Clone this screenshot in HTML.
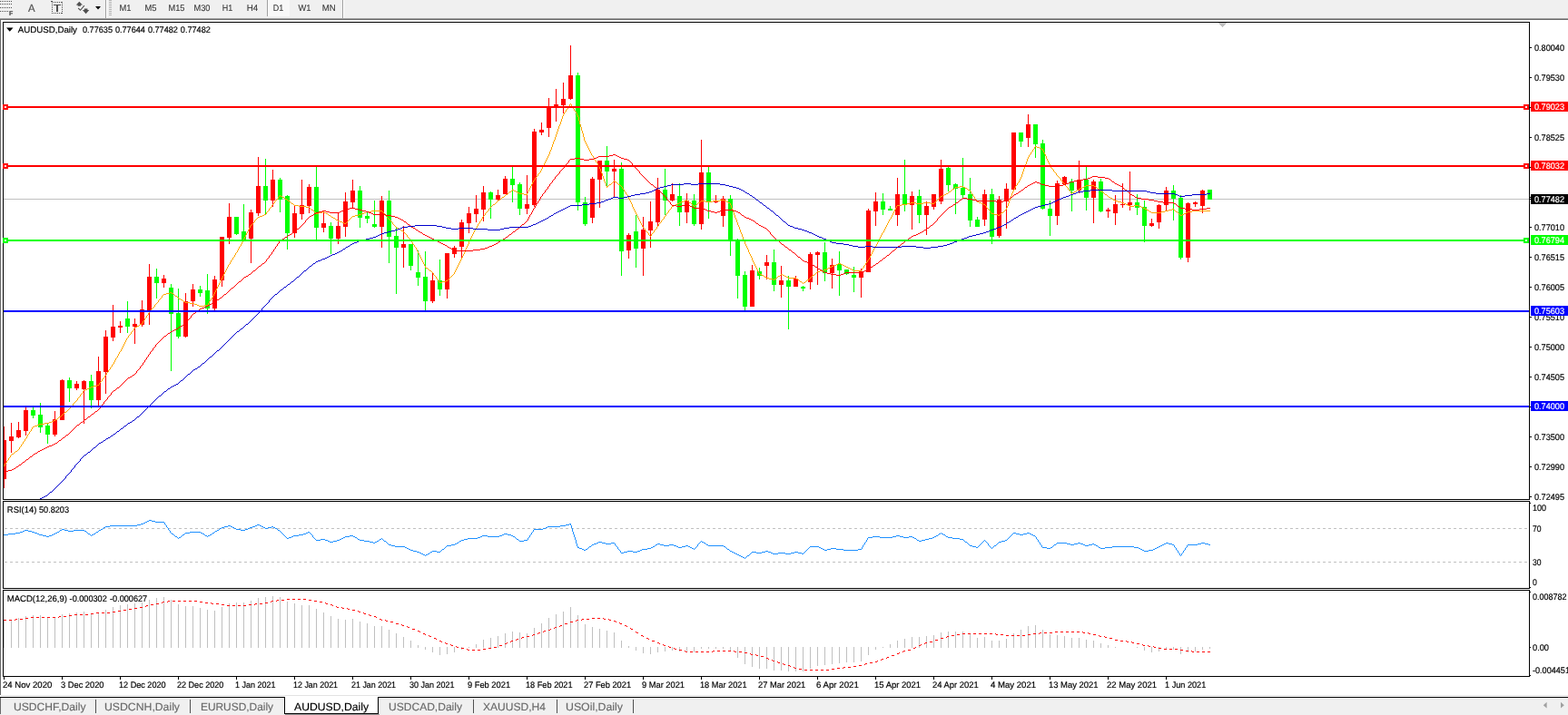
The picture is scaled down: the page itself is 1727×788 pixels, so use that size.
<!DOCTYPE html>
<html lang="en"><head><meta charset="utf-8"><title>AUDUSD,Daily</title>
<style>html,body{margin:0;padding:0;background:#fff;overflow:hidden}svg{display:block;font-family:'Liberation Sans','DejaVu Sans',sans-serif}text{white-space:pre;text-rendering:geometricPrecision}</style>
</head><body>
<svg width="1727" height="788" viewBox="0 0 1727 788">
<g shape-rendering="crispEdges">
<rect x="0" y="0" width="1727" height="788" fill="#ffffff"/>
<rect x="0" y="0" width="1727" height="20" fill="#f0f0f0"/>
<rect x="0" y="20" width="1727" height="1" fill="#a0a0a0"/>
<rect x="0" y="21" width="1727" height="1" fill="#696969"/>
<rect x="0" y="22" width="1" height="744" fill="#696969"/>
<rect x="116" y="0" width="1" height="20" fill="#a0a0a0"/>
<rect x="117" y="0" width="1" height="20" fill="#ffffff"/>
<rect x="377" y="0" width="1" height="20" fill="#a0a0a0"/>
<rect x="378" y="0" width="1" height="20" fill="#ffffff"/>
<rect x="294" y="0" width="1" height="18" fill="#a0a0a0"/>
<rect x="295" y="0" width="24" height="18" fill="#f8f8f8"/>
<rect x="120" y="0" width="3" height="1" fill="#b4b4b4"/>
<rect x="120" y="2" width="3" height="1" fill="#b4b4b4"/>
<rect x="120" y="4" width="3" height="1" fill="#b4b4b4"/>
<rect x="120" y="6" width="3" height="1" fill="#b4b4b4"/>
<rect x="120" y="8" width="3" height="1" fill="#b4b4b4"/>
<rect x="120" y="10" width="3" height="1" fill="#b4b4b4"/>
<rect x="120" y="12" width="3" height="1" fill="#b4b4b4"/>
<rect x="120" y="14" width="3" height="1" fill="#b4b4b4"/>
<rect x="120" y="16" width="3" height="1" fill="#b4b4b4"/>
<rect x="0" y="1" width="1" height="1" fill="#505050"/>
<rect x="2" y="1" width="1" height="1" fill="#505050"/>
<rect x="4" y="1" width="1" height="1" fill="#505050"/>
<rect x="6" y="1" width="1" height="1" fill="#505050"/>
<rect x="8" y="1" width="1" height="1" fill="#505050"/>
<rect x="10" y="1" width="1" height="1" fill="#505050"/>
<rect x="12" y="1" width="1" height="1" fill="#505050"/>
<rect x="0" y="4" width="1" height="1" fill="#505050"/>
<rect x="2" y="4" width="1" height="1" fill="#505050"/>
<rect x="4" y="4" width="1" height="1" fill="#505050"/>
<rect x="6" y="4" width="1" height="1" fill="#505050"/>
<rect x="8" y="4" width="1" height="1" fill="#505050"/>
<rect x="10" y="4" width="1" height="1" fill="#505050"/>
<rect x="12" y="4" width="1" height="1" fill="#505050"/>
<rect x="0" y="8" width="1" height="1" fill="#505050"/>
<rect x="2" y="8" width="1" height="1" fill="#505050"/>
<rect x="4" y="8" width="1" height="1" fill="#505050"/>
<rect x="6" y="8" width="1" height="1" fill="#505050"/>
<rect x="8" y="8" width="1" height="1" fill="#505050"/>
<rect x="10" y="8" width="1" height="1" fill="#505050"/>
<rect x="12" y="8" width="1" height="1" fill="#505050"/>
<rect x="0" y="12" width="1" height="1" fill="#505050"/>
<rect x="2" y="12" width="1" height="1" fill="#505050"/>
<rect x="4" y="12" width="1" height="1" fill="#505050"/>
<rect x="6" y="12" width="1" height="1" fill="#505050"/>
<rect x="8" y="12" width="1" height="1" fill="#505050"/>
<rect x="57" y="2" width="1" height="1" fill="#505050"/>
<rect x="57" y="14" width="1" height="1" fill="#505050"/>
<rect x="59" y="2" width="1" height="1" fill="#505050"/>
<rect x="59" y="14" width="1" height="1" fill="#505050"/>
<rect x="61" y="2" width="1" height="1" fill="#505050"/>
<rect x="61" y="14" width="1" height="1" fill="#505050"/>
<rect x="63" y="2" width="1" height="1" fill="#505050"/>
<rect x="63" y="14" width="1" height="1" fill="#505050"/>
<rect x="65" y="2" width="1" height="1" fill="#505050"/>
<rect x="65" y="14" width="1" height="1" fill="#505050"/>
<rect x="67" y="2" width="1" height="1" fill="#505050"/>
<rect x="67" y="14" width="1" height="1" fill="#505050"/>
<rect x="57" y="2" width="1" height="1" fill="#505050"/>
<rect x="68" y="2" width="1" height="1" fill="#505050"/>
<rect x="57" y="4" width="1" height="1" fill="#505050"/>
<rect x="68" y="4" width="1" height="1" fill="#505050"/>
<rect x="57" y="6" width="1" height="1" fill="#505050"/>
<rect x="68" y="6" width="1" height="1" fill="#505050"/>
<rect x="57" y="8" width="1" height="1" fill="#505050"/>
<rect x="68" y="8" width="1" height="1" fill="#505050"/>
<rect x="57" y="10" width="1" height="1" fill="#505050"/>
<rect x="68" y="10" width="1" height="1" fill="#505050"/>
<rect x="57" y="12" width="1" height="1" fill="#505050"/>
<rect x="68" y="12" width="1" height="1" fill="#505050"/>
<rect x="57" y="14" width="1" height="1" fill="#505050"/>
<rect x="68" y="14" width="1" height="1" fill="#505050"/>
<rect x="56" y="1" width="2" height="1" fill="#505050"/>
<rect x="59" y="5" width="8" height="1" fill="#505050"/>
<rect x="62" y="5" width="2" height="8" fill="#505050"/>
</g>
<g fill="#505050"><path d="M87.3 1.8 L91 5.5 L89 5.5 L89 6.8 L85.6 6.8 L85.6 5.5 L83.7 5.5 Z"/><path d="M94.6 15.2 L98.3 11 L96.4 11 L96.4 9.6 L92.8 9.6 L92.8 11 L90.9 11 Z"/><path d="M86.2 9 L88.5 11.3 L92.9 6.2" fill="none" stroke="#505050" stroke-width="1.1"/></g>
<path d="M105 7 L111 7 L108 10.5 Z" fill="#000"/>
<text x="10" y="16.5" font-size="7" fill="#404040" stroke="#404040" stroke-width="0.18" font-weight="bold">F</text>
<text x="31" y="12.8" font-size="12" fill="#505050" stroke="#505050" stroke-width="0.18" textLength="7.6" lengthAdjust="spacingAndGlyphs">A</text>
<text x="131.5" y="11.8" font-size="9.7" fill="#383838" stroke="#383838" stroke-width="0.1" textLength="13" lengthAdjust="spacingAndGlyphs">M1</text>
<text x="159.5" y="11.8" font-size="9.7" fill="#383838" stroke="#383838" stroke-width="0.1" textLength="13" lengthAdjust="spacingAndGlyphs">M5</text>
<text x="185.5" y="11.8" font-size="9.7" fill="#383838" stroke="#383838" stroke-width="0.1" textLength="18" lengthAdjust="spacingAndGlyphs">M15</text>
<text x="213.5" y="11.8" font-size="9.7" fill="#383838" stroke="#383838" stroke-width="0.1" textLength="18" lengthAdjust="spacingAndGlyphs">M30</text>
<text x="244.7" y="11.8" font-size="9.7" fill="#383838" stroke="#383838" stroke-width="0.1" textLength="11.5" lengthAdjust="spacingAndGlyphs">H1</text>
<text x="271.7" y="11.8" font-size="9.7" fill="#383838" stroke="#383838" stroke-width="0.1" textLength="12.5" lengthAdjust="spacingAndGlyphs">H4</text>
<text x="300.7" y="11.8" font-size="9.7" fill="#383838" stroke="#383838" stroke-width="0.1" textLength="11.5" lengthAdjust="spacingAndGlyphs">D1</text>
<text x="328.4" y="11.8" font-size="9.7" fill="#383838" stroke="#383838" stroke-width="0.1" textLength="14" lengthAdjust="spacingAndGlyphs">W1</text>
<text x="354.8" y="11.8" font-size="9.7" fill="#383838" stroke="#383838" stroke-width="0.1" textLength="15" lengthAdjust="spacingAndGlyphs">MN</text>
<g shape-rendering="crispEdges">
<rect x="3" y="24" width="1" height="722" fill="#000"/>
<rect x="1684" y="24" width="1" height="722" fill="#000"/>
<rect x="3" y="24" width="1682" height="1" fill="#000"/>
<rect x="3" y="550" width="1682" height="1" fill="#000"/>
<rect x="3" y="552" width="1682" height="1" fill="#000"/>
<rect x="3" y="648" width="1682" height="1" fill="#000"/>
<rect x="3" y="650" width="1682" height="1" fill="#000"/>
<rect x="3" y="745" width="1682" height="1" fill="#000"/>
<rect x="3" y="551" width="1" height="1" fill="#fff"/>
<rect x="3" y="649" width="1" height="1" fill="#fff"/>
<rect x="1684" y="551" width="1" height="1" fill="#fff"/>
<rect x="1684" y="649" width="1" height="1" fill="#fff"/>
<rect x="1342" y="25" width="9" height="1" fill="#c0c0c0"/>
<rect x="1343" y="26" width="7" height="1" fill="#c0c0c0"/>
<rect x="1344" y="27" width="5" height="1" fill="#c0c0c0"/>
<rect x="1345" y="28" width="3" height="1" fill="#c0c0c0"/>
<rect x="1346" y="29" width="1" height="1" fill="#c0c0c0"/>
</g>
<defs><clipPath id="cm"><rect x="4" y="25" width="1680" height="525"/></clipPath><clipPath id="cr"><rect x="4" y="553" width="1680" height="95"/></clipPath><clipPath id="cd"><rect x="4" y="651" width="1680" height="94"/></clipPath></defs>
<g shape-rendering="crispEdges" clip-path="url(#cm)">
<rect x="4" y="219" width="1680" height="1" fill="#c0c0c0"/>
<rect x="4" y="470" width="1" height="68" fill="#ff0000"/>
<rect x="2" y="485" width="5" height="43" fill="#ff0000"/>
<rect x="12" y="466" width="1" height="33" fill="#ff0000"/>
<rect x="10" y="481" width="5" height="5" fill="#ff0000"/>
<rect x="20" y="465" width="1" height="18" fill="#ff0000"/>
<rect x="18" y="474" width="5" height="8" fill="#ff0000"/>
<rect x="28" y="449" width="1" height="31" fill="#ff0000"/>
<rect x="26" y="452" width="5" height="23" fill="#ff0000"/>
<rect x="36" y="449" width="1" height="12" fill="#00ff00"/>
<rect x="34" y="452" width="5" height="6" fill="#00ff00"/>
<rect x="44" y="444" width="1" height="33" fill="#00ff00"/>
<rect x="42" y="457" width="5" height="14" fill="#00ff00"/>
<rect x="52" y="467" width="1" height="22" fill="#00ff00"/>
<rect x="50" y="469" width="5" height="10" fill="#00ff00"/>
<rect x="60" y="453" width="1" height="28" fill="#ff0000"/>
<rect x="58" y="462" width="5" height="17" fill="#ff0000"/>
<rect x="68" y="418" width="1" height="45" fill="#ff0000"/>
<rect x="66" y="419" width="5" height="44" fill="#ff0000"/>
<rect x="76" y="416" width="1" height="27" fill="#00ff00"/>
<rect x="74" y="419" width="5" height="9" fill="#00ff00"/>
<rect x="84" y="420" width="1" height="10" fill="#ff0000"/>
<rect x="82" y="423" width="5" height="5" fill="#ff0000"/>
<rect x="92" y="419" width="1" height="48" fill="#ff0000"/>
<rect x="90" y="420" width="5" height="9" fill="#ff0000"/>
<rect x="100" y="413" width="1" height="37" fill="#00ff00"/>
<rect x="98" y="420" width="5" height="21" fill="#00ff00"/>
<rect x="108" y="393" width="1" height="56" fill="#ff0000"/>
<rect x="106" y="409" width="5" height="32" fill="#ff0000"/>
<rect x="116" y="364" width="1" height="70" fill="#ff0000"/>
<rect x="114" y="371" width="5" height="39" fill="#ff0000"/>
<rect x="124" y="336" width="1" height="40" fill="#ff0000"/>
<rect x="122" y="360" width="5" height="12" fill="#ff0000"/>
<rect x="132" y="354" width="1" height="13" fill="#ff0000"/>
<rect x="130" y="359" width="5" height="2" fill="#ff0000"/>
<rect x="140" y="332" width="1" height="35" fill="#00ff00"/>
<rect x="138" y="351" width="5" height="9" fill="#00ff00"/>
<rect x="148" y="351" width="1" height="28" fill="#ff0000"/>
<rect x="146" y="357" width="5" height="3" fill="#ff0000"/>
<rect x="156" y="331" width="1" height="29" fill="#ff0000"/>
<rect x="154" y="341" width="5" height="17" fill="#ff0000"/>
<rect x="164" y="291" width="1" height="67" fill="#ff0000"/>
<rect x="162" y="305" width="5" height="39" fill="#ff0000"/>
<rect x="172" y="296" width="1" height="33" fill="#00ff00"/>
<rect x="170" y="305" width="5" height="7" fill="#00ff00"/>
<rect x="180" y="303" width="1" height="14" fill="#ff0000"/>
<rect x="178" y="307" width="5" height="5" fill="#ff0000"/>
<rect x="188" y="313" width="1" height="96" fill="#00ff00"/>
<rect x="186" y="317" width="5" height="29" fill="#00ff00"/>
<rect x="196" y="318" width="1" height="55" fill="#00ff00"/>
<rect x="194" y="345" width="5" height="26" fill="#00ff00"/>
<rect x="204" y="323" width="1" height="49" fill="#ff0000"/>
<rect x="202" y="332" width="5" height="39" fill="#ff0000"/>
<rect x="212" y="313" width="1" height="25" fill="#ff0000"/>
<rect x="210" y="319" width="5" height="13" fill="#ff0000"/>
<rect x="220" y="315" width="1" height="12" fill="#00ff00"/>
<rect x="218" y="319" width="5" height="4" fill="#00ff00"/>
<rect x="228" y="302" width="1" height="44" fill="#00ff00"/>
<rect x="226" y="320" width="5" height="20" fill="#00ff00"/>
<rect x="236" y="304" width="1" height="38" fill="#ff0000"/>
<rect x="234" y="308" width="5" height="32" fill="#ff0000"/>
<rect x="244" y="261" width="1" height="55" fill="#ff0000"/>
<rect x="242" y="261" width="5" height="48" fill="#ff0000"/>
<rect x="252" y="224" width="1" height="45" fill="#ff0000"/>
<rect x="250" y="239" width="5" height="23" fill="#ff0000"/>
<rect x="260" y="239" width="1" height="20" fill="#00ff00"/>
<rect x="258" y="239" width="5" height="19" fill="#00ff00"/>
<rect x="268" y="225" width="1" height="39" fill="#00ff00"/>
<rect x="266" y="255" width="5" height="9" fill="#00ff00"/>
<rect x="276" y="231" width="1" height="59" fill="#ff0000"/>
<rect x="274" y="234" width="5" height="29" fill="#ff0000"/>
<rect x="284" y="173" width="1" height="65" fill="#ff0000"/>
<rect x="282" y="205" width="5" height="30" fill="#ff0000"/>
<rect x="292" y="175" width="1" height="61" fill="#00ff00"/>
<rect x="290" y="205" width="5" height="16" fill="#00ff00"/>
<rect x="300" y="187" width="1" height="41" fill="#ff0000"/>
<rect x="298" y="198" width="5" height="23" fill="#ff0000"/>
<rect x="308" y="196" width="1" height="38" fill="#00ff00"/>
<rect x="306" y="198" width="5" height="22" fill="#00ff00"/>
<rect x="316" y="215" width="1" height="60" fill="#00ff00"/>
<rect x="314" y="216" width="5" height="41" fill="#00ff00"/>
<rect x="324" y="226" width="1" height="36" fill="#ff0000"/>
<rect x="322" y="235" width="5" height="22" fill="#ff0000"/>
<rect x="332" y="198" width="1" height="44" fill="#ff0000"/>
<rect x="330" y="226" width="5" height="10" fill="#ff0000"/>
<rect x="340" y="203" width="1" height="32" fill="#ff0000"/>
<rect x="338" y="206" width="5" height="21" fill="#ff0000"/>
<rect x="348" y="184" width="1" height="82" fill="#00ff00"/>
<rect x="346" y="206" width="5" height="45" fill="#00ff00"/>
<rect x="356" y="234" width="1" height="22" fill="#ff0000"/>
<rect x="354" y="246" width="5" height="5" fill="#ff0000"/>
<rect x="364" y="245" width="1" height="35" fill="#00ff00"/>
<rect x="362" y="249" width="5" height="14" fill="#00ff00"/>
<rect x="372" y="235" width="1" height="34" fill="#ff0000"/>
<rect x="370" y="249" width="5" height="14" fill="#ff0000"/>
<rect x="380" y="212" width="1" height="49" fill="#ff0000"/>
<rect x="378" y="222" width="5" height="28" fill="#ff0000"/>
<rect x="388" y="198" width="1" height="32" fill="#ff0000"/>
<rect x="386" y="210" width="5" height="13" fill="#ff0000"/>
<rect x="396" y="205" width="1" height="46" fill="#00ff00"/>
<rect x="394" y="210" width="5" height="30" fill="#00ff00"/>
<rect x="404" y="234" width="1" height="12" fill="#00ff00"/>
<rect x="402" y="238" width="5" height="3" fill="#00ff00"/>
<rect x="412" y="221" width="1" height="30" fill="#00ff00"/>
<rect x="410" y="247" width="5" height="3" fill="#00ff00"/>
<rect x="420" y="216" width="1" height="57" fill="#ff0000"/>
<rect x="418" y="221" width="5" height="29" fill="#ff0000"/>
<rect x="428" y="210" width="1" height="80" fill="#00ff00"/>
<rect x="426" y="221" width="5" height="40" fill="#00ff00"/>
<rect x="436" y="251" width="1" height="73" fill="#00ff00"/>
<rect x="434" y="260" width="5" height="13" fill="#00ff00"/>
<rect x="444" y="249" width="1" height="46" fill="#ff0000"/>
<rect x="442" y="269" width="5" height="4" fill="#ff0000"/>
<rect x="452" y="269" width="1" height="29" fill="#00ff00"/>
<rect x="450" y="269" width="5" height="24" fill="#00ff00"/>
<rect x="460" y="276" width="1" height="39" fill="#00ff00"/>
<rect x="458" y="300" width="5" height="6" fill="#00ff00"/>
<rect x="468" y="277" width="1" height="65" fill="#00ff00"/>
<rect x="466" y="305" width="5" height="27" fill="#00ff00"/>
<rect x="476" y="300" width="1" height="34" fill="#ff0000"/>
<rect x="474" y="309" width="5" height="23" fill="#ff0000"/>
<rect x="484" y="286" width="1" height="40" fill="#00ff00"/>
<rect x="482" y="309" width="5" height="10" fill="#00ff00"/>
<rect x="492" y="279" width="1" height="50" fill="#ff0000"/>
<rect x="490" y="279" width="5" height="40" fill="#ff0000"/>
<rect x="500" y="271" width="1" height="13" fill="#ff0000"/>
<rect x="498" y="273" width="5" height="7" fill="#ff0000"/>
<rect x="508" y="242" width="1" height="43" fill="#ff0000"/>
<rect x="506" y="245" width="5" height="27" fill="#ff0000"/>
<rect x="516" y="228" width="1" height="29" fill="#ff0000"/>
<rect x="514" y="235" width="5" height="11" fill="#ff0000"/>
<rect x="524" y="215" width="1" height="30" fill="#ff0000"/>
<rect x="522" y="230" width="5" height="6" fill="#ff0000"/>
<rect x="532" y="205" width="1" height="39" fill="#ff0000"/>
<rect x="530" y="212" width="5" height="19" fill="#ff0000"/>
<rect x="540" y="211" width="1" height="30" fill="#00ff00"/>
<rect x="538" y="212" width="5" height="8" fill="#00ff00"/>
<rect x="548" y="209" width="1" height="13" fill="#ff0000"/>
<rect x="546" y="215" width="5" height="5" fill="#ff0000"/>
<rect x="556" y="194" width="1" height="20" fill="#ff0000"/>
<rect x="554" y="197" width="5" height="17" fill="#ff0000"/>
<rect x="564" y="184" width="1" height="39" fill="#00ff00"/>
<rect x="562" y="197" width="5" height="7" fill="#00ff00"/>
<rect x="572" y="201" width="1" height="36" fill="#00ff00"/>
<rect x="570" y="203" width="5" height="27" fill="#00ff00"/>
<rect x="580" y="193" width="1" height="43" fill="#ff0000"/>
<rect x="578" y="225" width="5" height="5" fill="#ff0000"/>
<rect x="588" y="142" width="1" height="86" fill="#ff0000"/>
<rect x="586" y="145" width="5" height="81" fill="#ff0000"/>
<rect x="596" y="135" width="1" height="14" fill="#ff0000"/>
<rect x="594" y="143" width="5" height="3" fill="#ff0000"/>
<rect x="604" y="108" width="1" height="43" fill="#ff0000"/>
<rect x="602" y="117" width="5" height="24" fill="#ff0000"/>
<rect x="612" y="98" width="1" height="36" fill="#ff0000"/>
<rect x="610" y="115" width="5" height="4" fill="#ff0000"/>
<rect x="620" y="91" width="1" height="34" fill="#ff0000"/>
<rect x="618" y="109" width="5" height="7" fill="#ff0000"/>
<rect x="628" y="50" width="1" height="60" fill="#ff0000"/>
<rect x="626" y="83" width="5" height="26" fill="#ff0000"/>
<rect x="636" y="80" width="1" height="152" fill="#00ff00"/>
<rect x="634" y="83" width="5" height="140" fill="#00ff00"/>
<rect x="644" y="217" width="1" height="32" fill="#00ff00"/>
<rect x="642" y="223" width="5" height="24" fill="#00ff00"/>
<rect x="652" y="195" width="1" height="51" fill="#ff0000"/>
<rect x="650" y="197" width="5" height="43" fill="#ff0000"/>
<rect x="660" y="177" width="1" height="52" fill="#ff0000"/>
<rect x="658" y="177" width="5" height="21" fill="#ff0000"/>
<rect x="668" y="161" width="1" height="44" fill="#00ff00"/>
<rect x="666" y="177" width="5" height="12" fill="#00ff00"/>
<rect x="676" y="176" width="1" height="41" fill="#ff0000"/>
<rect x="674" y="186" width="5" height="3" fill="#ff0000"/>
<rect x="684" y="179" width="1" height="125" fill="#00ff00"/>
<rect x="682" y="186" width="5" height="91" fill="#00ff00"/>
<rect x="692" y="257" width="1" height="28" fill="#ff0000"/>
<rect x="690" y="259" width="5" height="17" fill="#ff0000"/>
<rect x="700" y="237" width="1" height="58" fill="#00ff00"/>
<rect x="698" y="255" width="5" height="19" fill="#00ff00"/>
<rect x="708" y="239" width="1" height="65" fill="#ff0000"/>
<rect x="706" y="253" width="5" height="21" fill="#ff0000"/>
<rect x="716" y="222" width="1" height="51" fill="#ff0000"/>
<rect x="714" y="244" width="5" height="10" fill="#ff0000"/>
<rect x="724" y="196" width="1" height="54" fill="#ff0000"/>
<rect x="722" y="209" width="5" height="36" fill="#ff0000"/>
<rect x="732" y="186" width="1" height="51" fill="#00ff00"/>
<rect x="730" y="209" width="5" height="12" fill="#00ff00"/>
<rect x="740" y="202" width="1" height="20" fill="#ff0000"/>
<rect x="738" y="214" width="5" height="7" fill="#ff0000"/>
<rect x="748" y="202" width="1" height="47" fill="#00ff00"/>
<rect x="746" y="216" width="5" height="18" fill="#00ff00"/>
<rect x="756" y="213" width="1" height="33" fill="#ff0000"/>
<rect x="754" y="221" width="5" height="13" fill="#ff0000"/>
<rect x="764" y="214" width="1" height="35" fill="#00ff00"/>
<rect x="762" y="221" width="5" height="26" fill="#00ff00"/>
<rect x="772" y="154" width="1" height="99" fill="#ff0000"/>
<rect x="770" y="190" width="5" height="57" fill="#ff0000"/>
<rect x="780" y="184" width="1" height="57" fill="#00ff00"/>
<rect x="778" y="190" width="5" height="32" fill="#00ff00"/>
<rect x="788" y="215" width="1" height="9" fill="#ff0000"/>
<rect x="786" y="221" width="5" height="2" fill="#ff0000"/>
<rect x="796" y="216" width="1" height="34" fill="#ff0000"/>
<rect x="794" y="219" width="5" height="19" fill="#ff0000"/>
<rect x="804" y="215" width="1" height="67" fill="#00ff00"/>
<rect x="802" y="219" width="5" height="47" fill="#00ff00"/>
<rect x="812" y="263" width="1" height="66" fill="#00ff00"/>
<rect x="810" y="266" width="5" height="38" fill="#00ff00"/>
<rect x="820" y="299" width="1" height="43" fill="#00ff00"/>
<rect x="818" y="303" width="5" height="35" fill="#00ff00"/>
<rect x="828" y="292" width="1" height="46" fill="#ff0000"/>
<rect x="826" y="298" width="5" height="40" fill="#ff0000"/>
<rect x="836" y="295" width="1" height="13" fill="#00ff00"/>
<rect x="834" y="299" width="5" height="5" fill="#00ff00"/>
<rect x="844" y="281" width="1" height="27" fill="#ff0000"/>
<rect x="842" y="289" width="5" height="4" fill="#ff0000"/>
<rect x="852" y="275" width="1" height="46" fill="#00ff00"/>
<rect x="850" y="289" width="5" height="25" fill="#00ff00"/>
<rect x="860" y="293" width="1" height="35" fill="#ff0000"/>
<rect x="858" y="309" width="5" height="5" fill="#ff0000"/>
<rect x="868" y="304" width="1" height="59" fill="#00ff00"/>
<rect x="866" y="309" width="5" height="7" fill="#00ff00"/>
<rect x="876" y="304" width="1" height="12" fill="#ff0000"/>
<rect x="874" y="307" width="5" height="9" fill="#ff0000"/>
<rect x="884" y="315" width="1" height="6" fill="#00ff00"/>
<rect x="882" y="316" width="5" height="2" fill="#00ff00"/>
<rect x="892" y="278" width="1" height="41" fill="#ff0000"/>
<rect x="890" y="280" width="5" height="31" fill="#ff0000"/>
<rect x="900" y="277" width="1" height="37" fill="#ff0000"/>
<rect x="898" y="278" width="5" height="3" fill="#ff0000"/>
<rect x="908" y="267" width="1" height="43" fill="#00ff00"/>
<rect x="906" y="278" width="5" height="23" fill="#00ff00"/>
<rect x="916" y="285" width="1" height="33" fill="#ff0000"/>
<rect x="914" y="292" width="5" height="9" fill="#ff0000"/>
<rect x="924" y="277" width="1" height="49" fill="#00ff00"/>
<rect x="922" y="291" width="5" height="7" fill="#00ff00"/>
<rect x="932" y="297" width="1" height="6" fill="#00ff00"/>
<rect x="930" y="297" width="5" height="5" fill="#00ff00"/>
<rect x="940" y="294" width="1" height="28" fill="#00ff00"/>
<rect x="938" y="303" width="5" height="3" fill="#00ff00"/>
<rect x="948" y="296" width="1" height="32" fill="#ff0000"/>
<rect x="946" y="299" width="5" height="7" fill="#ff0000"/>
<rect x="956" y="230" width="1" height="70" fill="#ff0000"/>
<rect x="954" y="232" width="5" height="68" fill="#ff0000"/>
<rect x="964" y="212" width="1" height="37" fill="#ff0000"/>
<rect x="962" y="222" width="5" height="11" fill="#ff0000"/>
<rect x="972" y="213" width="1" height="24" fill="#00ff00"/>
<rect x="970" y="222" width="5" height="9" fill="#00ff00"/>
<rect x="980" y="227" width="1" height="5" fill="#00ff00"/>
<rect x="978" y="230" width="5" height="2" fill="#00ff00"/>
<rect x="988" y="196" width="1" height="53" fill="#ff0000"/>
<rect x="986" y="214" width="5" height="23" fill="#ff0000"/>
<rect x="996" y="176" width="1" height="57" fill="#00ff00"/>
<rect x="994" y="214" width="5" height="12" fill="#00ff00"/>
<rect x="1004" y="211" width="1" height="42" fill="#ff0000"/>
<rect x="1002" y="216" width="5" height="10" fill="#ff0000"/>
<rect x="1012" y="209" width="1" height="37" fill="#00ff00"/>
<rect x="1010" y="216" width="5" height="21" fill="#00ff00"/>
<rect x="1020" y="222" width="1" height="37" fill="#ff0000"/>
<rect x="1018" y="227" width="5" height="10" fill="#ff0000"/>
<rect x="1028" y="214" width="1" height="17" fill="#ff0000"/>
<rect x="1026" y="214" width="5" height="14" fill="#ff0000"/>
<rect x="1036" y="176" width="1" height="49" fill="#ff0000"/>
<rect x="1034" y="186" width="5" height="36" fill="#ff0000"/>
<rect x="1044" y="184" width="1" height="27" fill="#00ff00"/>
<rect x="1042" y="185" width="5" height="19" fill="#00ff00"/>
<rect x="1052" y="202" width="1" height="34" fill="#00ff00"/>
<rect x="1050" y="203" width="5" height="5" fill="#00ff00"/>
<rect x="1060" y="174" width="1" height="45" fill="#00ff00"/>
<rect x="1058" y="207" width="5" height="8" fill="#00ff00"/>
<rect x="1068" y="196" width="1" height="54" fill="#00ff00"/>
<rect x="1066" y="214" width="5" height="29" fill="#00ff00"/>
<rect x="1076" y="239" width="1" height="11" fill="#00ff00"/>
<rect x="1074" y="242" width="5" height="8" fill="#00ff00"/>
<rect x="1084" y="209" width="1" height="40" fill="#ff0000"/>
<rect x="1082" y="214" width="5" height="28" fill="#ff0000"/>
<rect x="1092" y="208" width="1" height="61" fill="#00ff00"/>
<rect x="1090" y="214" width="5" height="47" fill="#00ff00"/>
<rect x="1100" y="216" width="1" height="46" fill="#ff0000"/>
<rect x="1098" y="220" width="5" height="40" fill="#ff0000"/>
<rect x="1108" y="202" width="1" height="50" fill="#ff0000"/>
<rect x="1106" y="208" width="5" height="14" fill="#ff0000"/>
<rect x="1116" y="146" width="1" height="63" fill="#ff0000"/>
<rect x="1114" y="146" width="5" height="63" fill="#ff0000"/>
<rect x="1124" y="146" width="1" height="16" fill="#00ff00"/>
<rect x="1122" y="146" width="5" height="10" fill="#00ff00"/>
<rect x="1132" y="126" width="1" height="36" fill="#ff0000"/>
<rect x="1130" y="137" width="5" height="15" fill="#ff0000"/>
<rect x="1140" y="137" width="1" height="37" fill="#00ff00"/>
<rect x="1138" y="137" width="5" height="22" fill="#00ff00"/>
<rect x="1148" y="154" width="1" height="77" fill="#00ff00"/>
<rect x="1146" y="158" width="5" height="72" fill="#00ff00"/>
<rect x="1156" y="221" width="1" height="39" fill="#00ff00"/>
<rect x="1154" y="230" width="5" height="8" fill="#00ff00"/>
<rect x="1164" y="199" width="1" height="49" fill="#ff0000"/>
<rect x="1162" y="202" width="5" height="36" fill="#ff0000"/>
<rect x="1172" y="194" width="1" height="9" fill="#ff0000"/>
<rect x="1170" y="195" width="5" height="8" fill="#ff0000"/>
<rect x="1180" y="197" width="1" height="36" fill="#00ff00"/>
<rect x="1178" y="200" width="5" height="10" fill="#00ff00"/>
<rect x="1188" y="177" width="1" height="36" fill="#ff0000"/>
<rect x="1186" y="198" width="5" height="12" fill="#ff0000"/>
<rect x="1196" y="184" width="1" height="48" fill="#00ff00"/>
<rect x="1194" y="198" width="5" height="20" fill="#00ff00"/>
<rect x="1204" y="198" width="1" height="48" fill="#ff0000"/>
<rect x="1202" y="200" width="5" height="18" fill="#ff0000"/>
<rect x="1212" y="197" width="1" height="37" fill="#00ff00"/>
<rect x="1210" y="200" width="5" height="33" fill="#00ff00"/>
<rect x="1220" y="229" width="1" height="11" fill="#ff0000"/>
<rect x="1218" y="231" width="5" height="2" fill="#ff0000"/>
<rect x="1228" y="215" width="1" height="33" fill="#ff0000"/>
<rect x="1226" y="225" width="5" height="10" fill="#ff0000"/>
<rect x="1236" y="202" width="1" height="27" fill="#ff0000"/>
<rect x="1234" y="225" width="5" height="1" fill="#ff0000"/>
<rect x="1244" y="189" width="1" height="43" fill="#ff0000"/>
<rect x="1242" y="223" width="5" height="3" fill="#ff0000"/>
<rect x="1252" y="214" width="1" height="23" fill="#00ff00"/>
<rect x="1250" y="223" width="5" height="6" fill="#00ff00"/>
<rect x="1260" y="221" width="1" height="46" fill="#00ff00"/>
<rect x="1258" y="228" width="5" height="21" fill="#00ff00"/>
<rect x="1268" y="241" width="1" height="9" fill="#ff0000"/>
<rect x="1266" y="246" width="5" height="3" fill="#ff0000"/>
<rect x="1276" y="225" width="1" height="27" fill="#ff0000"/>
<rect x="1274" y="226" width="5" height="19" fill="#ff0000"/>
<rect x="1284" y="206" width="1" height="26" fill="#ff0000"/>
<rect x="1282" y="210" width="5" height="16" fill="#ff0000"/>
<rect x="1292" y="204" width="1" height="39" fill="#00ff00"/>
<rect x="1290" y="210" width="5" height="9" fill="#00ff00"/>
<rect x="1300" y="215" width="1" height="71" fill="#00ff00"/>
<rect x="1298" y="218" width="5" height="66" fill="#00ff00"/>
<rect x="1308" y="223" width="1" height="66" fill="#ff0000"/>
<rect x="1306" y="224" width="5" height="60" fill="#ff0000"/>
<rect x="1316" y="222" width="1" height="6" fill="#ff0000"/>
<rect x="1314" y="223" width="5" height="2" fill="#ff0000"/>
<rect x="1324" y="209" width="1" height="26" fill="#ff0000"/>
<rect x="1322" y="210" width="5" height="17" fill="#ff0000"/>
<rect x="1332" y="209" width="1" height="11" fill="#00ff00"/>
<rect x="1330" y="209" width="5" height="11" fill="#00ff00"/>
<path d="M5.5 511v2M7.5 508v2M9.5 505v2M11.5 502v2M21.5 493v2M23.5 490v2M25.5 487v2M27.5 484v2M29.5 481v2M30.5 479v2M32.5 476v2M34.5 473v2M35.5 471v2M80.5 445v2M85.5 439v2M88.5 435v2M91.5 431v2M109.5 422v2M112.5 418v2M115.5 414v2M117.5 411v2M119.5 408v2M121.5 405v2M123.5 402v2M125.5 399v2M126.5 397v2M127.5 395v2M129.5 392v2M130.5 390v2M131.5 388v2M133.5 385v2M134.5 383v2M135.5 381v2M136.5 379v2M137.5 377v2M138.5 375v2M139.5 373v2M141.5 370v2M144.5 366v2M147.5 362v2M157.5 354v2M159.5 351v2M161.5 348v2M163.5 345v2M166.5 341v2M170.5 336v2M174.5 331v2M178.5 326v2M229.5 334v2M230.5 332v2M232.5 329v2M234.5 326v2M235.5 324v2M236.5 322v2M237.5 320v2M238.5 318v2M239.5 316v2M240.5 314v2M241.5 312v2M242.5 310v2M243.5 308v2M244.5 306v2M245.5 304v2M246.5 302v2M247.5 300v2M248.5 298v2M249.5 296v2M250.5 294v2M251.5 292v2M253.5 289v2M254.5 287v2M256.5 284v2M258.5 281v2M259.5 279v2M261.5 276v2M262.5 274v2M263.5 272v2M265.5 269v2M266.5 267v2M267.5 265v2M268.5 263v2M269.5 261v2M270.5 259v2M271.5 257v2M272.5 255v2M273.5 253v2M274.5 251v2M275.5 249v2M280.5 243v2M293.5 234v2M296.5 230v2M299.5 226v2M302.5 222v2M306.5 217v2M424.5 236v2M432.5 245v2M448.5 259v2M453.5 265v2M454.5 267v2M456.5 270v2M458.5 273v2M459.5 275v2M460.5 277v2M461.5 279v2M462.5 281v2M463.5 283v2M464.5 285v2M465.5 287v2M466.5 289v2M467.5 291v2M468.5 293v2M477.5 301v2M480.5 305v2M483.5 309v2M500.5 300v2M501.5 298v2M502.5 296v2M503.5 294v2M504.5 292v2M505.5 290v2M506.5 288v2M507.5 286v2M508.5 284v2M509.5 282v2M510.5 280v2M511.5 278v2M512.5 275v3M513.5 273v2M514.5 271v2M515.5 269v2M516.5 266v3M517.5 264v2M518.5 262v2M519.5 260v2M520.5 258v2M521.5 256v2M522.5 254v2M523.5 252v2M525.5 249v2M526.5 247v2M528.5 244v2M530.5 241v2M531.5 239v2M534.5 235v2M538.5 230v2M580.5 213v2M581.5 211v2M582.5 209v2M583.5 207v2M584.5 205v2M585.5 203v2M586.5 201v2M587.5 199v2M589.5 196v2M592.5 192v2M595.5 188v2M596.5 186v2M597.5 184v2M598.5 182v2M599.5 180v2M600.5 178v2M601.5 176v2M602.5 174v2M603.5 172v2M604.5 170v2M605.5 167v3M606.5 165v2M607.5 162v3M608.5 159v3M609.5 156v3M610.5 154v2M611.5 151v3M612.5 148v3M613.5 145v3M614.5 142v3M615.5 139v3M616.5 137v2M617.5 134v3M618.5 131v3M619.5 128v3M620.5 126v2M621.5 124v2M623.5 121v2M625.5 118v2M627.5 115v2M629.5 115v2M630.5 117v2M632.5 120v2M634.5 123v2M635.5 125v2M636.5 127v2M637.5 129v4M638.5 133v4M639.5 137v3M640.5 140v4M641.5 144v3M642.5 147v4M643.5 151v4M644.5 155v2M645.5 157v2M646.5 159v2M647.5 161v2M648.5 163v2M649.5 165v2M650.5 167v2M651.5 169v2M653.5 172v2M654.5 174v2M656.5 177v2M658.5 180v2M659.5 182v2M660.5 184v2M661.5 186v3M662.5 189v2M663.5 191v3M664.5 194v3M665.5 197v3M666.5 200v2M667.5 202v3M668.5 205v2M685.5 206v2M687.5 209v2M689.5 212v2M691.5 215v2M692.5 217v2M693.5 219v2M694.5 221v2M695.5 223v2M696.5 225v3M697.5 228v2M698.5 230v2M699.5 232v2M700.5 234v2M701.5 236v2M702.5 238v2M703.5 240v2M704.5 242v2M705.5 244v2M706.5 246v2M707.5 248v2M710.5 252v2M714.5 257v2M717.5 258v2M720.5 254v2M723.5 250v2M725.5 247v2M728.5 243v2M731.5 239v2M733.5 236v2M736.5 232v2M739.5 228v2M804.5 224v2M805.5 226v3M806.5 229v2M807.5 231v3M808.5 234v3M809.5 237v3M810.5 240v2M811.5 242v3M812.5 245v3M813.5 248v2M814.5 250v3M815.5 253v3M816.5 256v2M817.5 258v3M818.5 261v3M819.5 264v2M820.5 266v3M821.5 269v2M822.5 271v2M823.5 273v2M824.5 275v3M825.5 278v2M826.5 280v2M827.5 282v2M828.5 284v3M829.5 287v2M830.5 289v2M831.5 291v2M832.5 293v2M833.5 295v2M834.5 297v2M835.5 299v2M949.5 296v2M951.5 293v2M953.5 290v2M955.5 287v2M957.5 284v2M958.5 282v2M959.5 280v2M960.5 278v2M961.5 276v2M962.5 274v2M963.5 272v2M965.5 269v2M966.5 267v2M967.5 265v2M968.5 263v2M969.5 261v2M970.5 259v2M971.5 257v2M973.5 254v2M974.5 252v2M975.5 250v2M976.5 248v2M977.5 246v2M978.5 244v2M979.5 242v2M981.5 239v2M982.5 237v2M983.5 235v2M984.5 233v2M985.5 231v2M986.5 229v2M987.5 227v2M1069.5 211v2M1071.5 214v2M1073.5 217v2M1075.5 220v2M1086.5 227v2M1090.5 232v2M1108.5 229v2M1109.5 227v2M1110.5 224v3M1111.5 221v3M1112.5 219v2M1113.5 216v3M1114.5 213v3M1115.5 211v2M1116.5 209v2M1117.5 207v2M1118.5 205v2M1120.5 202v2M1122.5 199v2M1123.5 197v2M1124.5 195v2M1125.5 192v3M1126.5 189v3M1127.5 186v3M1128.5 184v2M1129.5 181v3M1130.5 178v3M1131.5 175v3M1132.5 173v2M1133.5 171v2M1135.5 168v2M1137.5 165v2M1139.5 162v2M1148.5 164v2M1149.5 166v2M1150.5 168v2M1151.5 170v2M1152.5 172v3M1153.5 175v2M1154.5 177v2M1155.5 179v2M1156.5 181v2M1157.5 183v2M1160.5 187v2M1163.5 191v2M1168.5 197v2M1173.5 203v2M1176.5 207v2M1179.5 211v2M628 114.5h1M626 117.5h1M631 119.5h1M624 120.5h1M633 122.5h1M622 123.5h1M1140 161.5h2M1142 162.5h3M1145 163.5h2M1138 164.5h1M1147 164.5h1M1136 167.5h1M1134 170.5h1M652 171.5h1M655 176.5h1M657 179.5h1M1158 185.5h1M1159 186.5h1M1161 189.5h1M594 190.5h1M1162 190.5h1M593 191.5h1M1164 193.5h1M591 194.5h1M1165 194.5h1M590 195.5h1M1166 195.5h1M1167 196.5h1M588 198.5h1M676 199.5h1M1169 199.5h1M675 200.5h1M677 200.5h2M1170 200.5h1M674 201.5h1M679 201.5h1M1121 201.5h1M1171 201.5h1M673 202.5h1M680 202.5h1M1172 202.5h1M671 203.5h2M681 203.5h2M670 204.5h1M683 204.5h1M1119 204.5h1M1196 204.5h9M669 205.5h1M684 205.5h1M1057 205.5h4M1174 205.5h1M1194 205.5h2M1205 205.5h2M1052 206.5h5M1061 206.5h2M1175 206.5h1M1192 206.5h2M1207 206.5h1M1051 207.5h1M1063 207.5h2M1190 207.5h2M1208 207.5h1M686 208.5h1M1049 208.5h2M1065 208.5h1M1188 208.5h2M1209 208.5h2M564 209.5h2M1048 209.5h1M1066 209.5h2M1177 209.5h1M1186 209.5h2M1211 209.5h1M563 210.5h1M566 210.5h2M1047 210.5h1M1068 210.5h1M1178 210.5h1M1185 210.5h1M1212 210.5h1M561 211.5h2M568 211.5h2M688 211.5h1M1045 211.5h2M1183 211.5h2M1213 211.5h2M560 212.5h1M570 212.5h2M1044 212.5h1M1181 212.5h2M1215 212.5h1M559 213.5h1M572 213.5h5M1042 213.5h2M1070 213.5h1M1180 213.5h1M1216 213.5h1M557 214.5h2M577 214.5h3M690 214.5h1M1040 214.5h2M1217 214.5h2M308 215.5h1M556 215.5h1M1038 215.5h2M1219 215.5h1M307 216.5h1M309 216.5h2M555 216.5h1M1036 216.5h2M1072 216.5h1M1220 216.5h1M311 217.5h2M553 217.5h2M1035 217.5h1M1221 217.5h2M313 218.5h1M552 218.5h1M1034 218.5h1M1223 218.5h2M305 219.5h1M314 219.5h2M551 219.5h1M1033 219.5h1M1074 219.5h1M1225 219.5h1M304 220.5h1M316 220.5h1M549 220.5h2M755 220.5h2M793 220.5h5M1032 220.5h1M1226 220.5h2M303 221.5h1M317 221.5h2M548 221.5h1M753 221.5h2M757 221.5h1M772 221.5h5M785 221.5h8M798 221.5h2M1031 221.5h1M1228 221.5h3M319 222.5h1M547 222.5h1M750 222.5h3M758 222.5h1M771 222.5h1M777 222.5h8M800 222.5h2M1030 222.5h1M1076 222.5h2M1231 222.5h4M320 223.5h1M546 223.5h1M748 223.5h2M759 223.5h2M769 223.5h2M802 223.5h2M1003 223.5h6M1017 223.5h8M1029 223.5h1M1078 223.5h3M1235 223.5h3M301 224.5h1M321 224.5h2M545 224.5h1M746 224.5h2M761 224.5h1M768 224.5h1M999 224.5h4M1009 224.5h8M1025 224.5h4M1081 224.5h2M1238 224.5h2M300 225.5h1M323 225.5h1M543 225.5h2M744 225.5h2M762 225.5h1M767 225.5h1M993 225.5h6M1083 225.5h2M1240 225.5h2M324 226.5h5M542 226.5h1M742 226.5h2M763 226.5h1M765 226.5h2M988 226.5h5M1085 226.5h1M1242 226.5h2M1249 226.5h5M329 227.5h8M541 227.5h1M740 227.5h2M764 227.5h1M1244 227.5h5M1254 227.5h3M298 228.5h1M337 228.5h4M540 228.5h1M1257 228.5h2M297 229.5h1M341 229.5h1M539 229.5h1M1087 229.5h1M1259 229.5h2M342 230.5h1M738 230.5h1M1088 230.5h1M1261 230.5h2M1291 230.5h2M343 231.5h2M737 231.5h1M1089 231.5h1M1107 231.5h1M1263 231.5h2M1287 231.5h4M1293 231.5h1M295 232.5h1M345 232.5h1M409 232.5h12M537 232.5h1M1106 232.5h1M1265 232.5h1M1283 232.5h4M1294 232.5h1M1313 232.5h20M294 233.5h1M346 233.5h1M355 233.5h2M403 233.5h6M421 233.5h1M536 233.5h1M1105 233.5h1M1266 233.5h2M1279 233.5h4M1295 233.5h2M1308 233.5h5M347 234.5h1M351 234.5h4M357 234.5h2M401 234.5h2M422 234.5h1M535 234.5h1M735 234.5h1M1091 234.5h1M1103 234.5h2M1268 234.5h11M1297 234.5h1M1306 234.5h2M348 235.5h3M359 235.5h2M398 235.5h3M423 235.5h1M734 235.5h1M1092 235.5h3M1102 235.5h1M1298 235.5h1M1304 235.5h2M291 236.5h2M361 236.5h1M395 236.5h3M1095 236.5h4M1101 236.5h1M1299 236.5h1M1302 236.5h2M289 237.5h2M362 237.5h2M391 237.5h4M533 237.5h1M1099 237.5h2M1300 237.5h2M286 238.5h3M364 238.5h1M388 238.5h3M425 238.5h1M532 238.5h1M732 238.5h1M284 239.5h2M365 239.5h2M387 239.5h1M426 239.5h1M283 240.5h1M367 240.5h2M386 240.5h1M427 240.5h1M282 241.5h1M369 241.5h1M385 241.5h1M428 241.5h1M730 241.5h1M980 241.5h1M281 242.5h1M370 242.5h2M384 242.5h1M429 242.5h1M729 242.5h1M372 243.5h2M383 243.5h1M430 243.5h1M529 243.5h1M374 244.5h3M382 244.5h1M431 244.5h1M279 245.5h1M377 245.5h2M381 245.5h1M727 245.5h1M278 246.5h1M379 246.5h2M527 246.5h1M726 246.5h1M277 247.5h1M433 247.5h1M276 248.5h1M434 248.5h1M435 249.5h1M724 249.5h1M436 250.5h1M708 250.5h1M437 251.5h2M524 251.5h1M709 251.5h1M439 252.5h2M722 252.5h1M441 253.5h1M721 253.5h1M442 254.5h2M711 254.5h1M444 255.5h1M712 255.5h1M445 256.5h1M713 256.5h1M719 256.5h1M972 256.5h1M446 257.5h1M718 257.5h1M447 258.5h1M715 259.5h1M716 260.5h1M449 261.5h1M450 262.5h1M451 263.5h1M452 264.5h1M455 269.5h1M264 271.5h1M964 271.5h1M457 272.5h1M260 278.5h1M257 283.5h1M255 286.5h1M956 286.5h1M954 289.5h1M923 290.5h3M252 291.5h1M921 291.5h2M926 291.5h2M918 292.5h3M928 292.5h2M952 292.5h1M916 293.5h2M930 293.5h2M914 294.5h2M932 294.5h2M469 295.5h2M912 295.5h2M934 295.5h2M950 295.5h1M471 296.5h1M910 296.5h2M936 296.5h2M472 297.5h1M907 297.5h3M938 297.5h2M473 298.5h2M903 298.5h4M940 298.5h9M475 299.5h1M900 299.5h3M476 300.5h1M899 300.5h1M836 301.5h1M898 301.5h1M499 302.5h1M837 302.5h2M860 302.5h2M897 302.5h1M478 303.5h1M498 303.5h1M839 303.5h2M859 303.5h1M862 303.5h2M895 303.5h2M479 304.5h1M497 304.5h1M841 304.5h1M857 304.5h2M864 304.5h2M894 304.5h1M496 305.5h1M842 305.5h2M856 305.5h1M866 305.5h2M893 305.5h1M495 306.5h1M844 306.5h3M855 306.5h1M868 306.5h9M892 306.5h1M481 307.5h1M494 307.5h1M847 307.5h4M853 307.5h2M877 307.5h2M891 307.5h1M482 308.5h1M493 308.5h1M851 308.5h2M879 308.5h1M889 308.5h2M491 309.5h2M880 309.5h1M888 309.5h1M487 310.5h4M881 310.5h2M887 310.5h1M484 311.5h3M883 311.5h1M885 311.5h2M884 312.5h1M187 322.5h2M183 323.5h4M189 323.5h2M180 324.5h3M191 324.5h1M179 325.5h1M192 325.5h1M193 326.5h2M195 327.5h1M177 328.5h1M196 328.5h1M233 328.5h1M176 329.5h1M197 329.5h2M175 330.5h1M199 330.5h2M201 331.5h1M231 331.5h1M202 332.5h2M173 333.5h1M204 333.5h5M172 334.5h1M209 334.5h5M171 335.5h1M214 335.5h3M217 336.5h2M225 336.5h4M219 337.5h6M169 338.5h1M168 339.5h1M167 340.5h1M165 343.5h1M164 344.5h1M162 347.5h1M160 350.5h1M158 353.5h1M156 356.5h1M154 357.5h2M153 358.5h1M151 359.5h2M149 360.5h2M148 361.5h1M146 364.5h1M145 365.5h1M143 368.5h1M142 369.5h1M140 372.5h1M132 387.5h1M128 394.5h1M124 401.5h1M122 404.5h1M120 407.5h1M118 410.5h1M116 413.5h1M114 416.5h1M113 417.5h1M111 420.5h1M110 421.5h1M107 424.5h2M103 425.5h4M100 426.5h3M98 427.5h2M96 428.5h2M94 429.5h2M92 430.5h2M90 433.5h1M89 434.5h1M87 437.5h1M86 438.5h1M84 441.5h1M83 442.5h1M82 443.5h1M81 444.5h1M79 447.5h1M78 448.5h1M77 449.5h1M76 450.5h1M75 451.5h1M74 452.5h1M73 453.5h1M71 454.5h2M70 455.5h1M69 456.5h1M68 457.5h1M67 458.5h1M65 459.5h2M64 460.5h1M63 461.5h1M61 462.5h2M59 463.5h2M57 464.5h2M54 465.5h3M49 466.5h5M43 467.5h6M41 468.5h2M38 469.5h3M36 470.5h2M33 475.5h1M31 478.5h1M28 483.5h1M26 486.5h1M24 489.5h1M22 492.5h1M20 495.5h1M19 496.5h1M17 497.5h2M16 498.5h1M15 499.5h1M13 500.5h2M12 501.5h1M10 504.5h1M8 507.5h1M6 510.5h1M4 513.5h1" fill="none" stroke="#ffa500" stroke-width="1"/>
<path d="M110.5 448v2M114.5 443v2M118.5 438v2M122.5 433v2M150.5 409v2M154.5 404v2M157.5 400v2M159.5 397v2M161.5 394v2M163.5 391v2M165.5 388v2M168.5 384v2M171.5 380v2M206.5 353v2M210.5 348v2M293.5 286v2M296.5 282v2M299.5 278v2M301.5 275v2M303.5 272v2M305.5 269v2M307.5 266v2M336.5 243v2M581.5 241v2M582.5 239v2M583.5 237v2M585.5 234v2M586.5 232v2M587.5 230v2M589.5 227v2M590.5 225v2M592.5 222v2M594.5 219v2M595.5 217v2M597.5 214v2M600.5 210v2M603.5 206v2M605.5 203v2M608.5 199v2M611.5 195v2M616.5 189v2M622.5 182v2M626.5 177v2M696.5 180v2M704.5 189v2M734.5 218v2M738.5 223v2M848.5 256v2M1032.5 241v2M675 170.5h3M671 171.5h4M678 171.5h2M659 172.5h12M680 172.5h2M657 173.5h2M682 173.5h2M633 174.5h6M654 174.5h3M684 174.5h3M628 175.5h5M639 175.5h4M649 175.5h5M687 175.5h4M627 176.5h1M643 176.5h6M691 176.5h2M693 177.5h1M694 178.5h1M625 179.5h1M695 179.5h1M624 180.5h1M623 181.5h1M697 182.5h1M698 183.5h1M621 184.5h1M699 184.5h1M620 185.5h1M700 185.5h1M619 186.5h1M701 186.5h1M618 187.5h1M702 187.5h1M617 188.5h1M703 188.5h1M615 191.5h1M705 191.5h1M614 192.5h1M706 192.5h1M613 193.5h1M707 193.5h1M612 194.5h1M708 194.5h1M1203 194.5h6M709 195.5h1M1201 195.5h2M1209 195.5h8M710 196.5h1M1198 196.5h3M1217 196.5h4M610 197.5h1M711 197.5h1M1193 197.5h5M1221 197.5h2M609 198.5h1M712 198.5h1M1187 198.5h6M1223 198.5h1M713 199.5h1M1183 199.5h4M1224 199.5h1M714 200.5h1M1140 200.5h2M1179 200.5h4M1225 200.5h2M607 201.5h1M715 201.5h1M1138 201.5h2M1142 201.5h3M1177 201.5h2M1227 201.5h1M606 202.5h1M716 202.5h1M1136 202.5h2M1145 202.5h2M1174 202.5h3M1228 202.5h2M717 203.5h2M1134 203.5h2M1147 203.5h4M1171 203.5h3M1230 203.5h2M719 204.5h1M1132 204.5h2M1151 204.5h4M1167 204.5h4M1232 204.5h2M604 205.5h1M720 205.5h1M1131 205.5h1M1155 205.5h12M1234 205.5h2M721 206.5h2M1129 206.5h2M1236 206.5h1M723 207.5h1M1128 207.5h1M1237 207.5h1M602 208.5h1M724 208.5h1M1127 208.5h1M1238 208.5h1M601 209.5h1M725 209.5h1M1125 209.5h2M1239 209.5h2M726 210.5h1M1124 210.5h1M1241 210.5h1M727 211.5h1M1122 211.5h2M1242 211.5h1M599 212.5h1M728 212.5h1M1121 212.5h1M1243 212.5h1M598 213.5h1M729 213.5h1M1119 213.5h2M1244 213.5h1M730 214.5h1M1117 214.5h2M1245 214.5h2M731 215.5h1M1116 215.5h1M1247 215.5h2M596 216.5h1M732 216.5h1M1115 216.5h1M1249 216.5h1M733 217.5h1M1113 217.5h2M1250 217.5h2M1060 218.5h5M1112 218.5h1M1252 218.5h5M1059 219.5h1M1065 219.5h6M1111 219.5h1M1257 219.5h8M735 220.5h1M1057 220.5h2M1071 220.5h4M1109 220.5h2M1265 220.5h6M593 221.5h1M736 221.5h1M1056 221.5h1M1075 221.5h22M1105 221.5h4M1271 221.5h4M737 222.5h1M1055 222.5h1M1097 222.5h8M1275 222.5h6M1053 223.5h2M1281 223.5h12M591 224.5h1M1052 224.5h1M1293 224.5h2M739 225.5h1M755 225.5h3M1050 225.5h2M1295 225.5h1M740 226.5h5M751 226.5h4M758 226.5h2M1049 226.5h1M1296 226.5h1M745 227.5h6M760 227.5h2M1047 227.5h2M1297 227.5h2M762 228.5h2M1045 228.5h2M1299 228.5h1M385 229.5h6M588 229.5h1M764 229.5h10M1044 229.5h1M1300 229.5h5M1329 229.5h4M380 230.5h5M391 230.5h4M774 230.5h3M1043 230.5h1M1305 230.5h8M1321 230.5h8M378 231.5h2M395 231.5h4M777 231.5h2M795 231.5h12M1042 231.5h1M1313 231.5h8M355 232.5h4M376 232.5h2M399 232.5h4M779 232.5h4M793 232.5h2M807 232.5h4M1041 232.5h1M351 233.5h4M359 233.5h4M374 233.5h2M403 233.5h3M783 233.5h4M790 233.5h3M811 233.5h2M1040 233.5h1M348 234.5h3M363 234.5h11M406 234.5h3M787 234.5h3M813 234.5h2M1039 234.5h1M346 235.5h2M409 235.5h2M815 235.5h1M1038 235.5h1M345 236.5h1M411 236.5h14M584 236.5h1M816 236.5h1M1037 236.5h1M343 237.5h2M425 237.5h6M817 237.5h2M1036 237.5h1M341 238.5h2M431 238.5h4M819 238.5h1M1035 238.5h1M340 239.5h1M435 239.5h3M820 239.5h2M1034 239.5h1M339 240.5h1M438 240.5h2M822 240.5h3M1033 240.5h1M338 241.5h1M440 241.5h2M825 241.5h2M337 242.5h1M442 242.5h2M827 242.5h2M444 243.5h1M580 243.5h1M829 243.5h2M1031 243.5h1M445 244.5h2M579 244.5h1M831 244.5h1M1030 244.5h1M335 245.5h1M447 245.5h1M578 245.5h1M832 245.5h1M1029 245.5h1M334 246.5h1M448 246.5h1M577 246.5h1M833 246.5h2M1028 246.5h1M333 247.5h1M449 247.5h2M575 247.5h2M835 247.5h1M1027 247.5h1M332 248.5h1M451 248.5h1M574 248.5h1M836 248.5h2M1025 248.5h2M331 249.5h1M452 249.5h1M573 249.5h1M838 249.5h2M1024 249.5h1M330 250.5h1M453 250.5h2M572 250.5h1M840 250.5h2M1023 250.5h1M329 251.5h1M455 251.5h2M571 251.5h1M842 251.5h2M1021 251.5h2M327 252.5h2M457 252.5h1M569 252.5h2M844 252.5h1M1020 252.5h1M326 253.5h1M458 253.5h2M568 253.5h1M845 253.5h1M1018 253.5h2M325 254.5h1M460 254.5h1M567 254.5h1M846 254.5h1M1017 254.5h1M324 255.5h1M461 255.5h2M565 255.5h2M847 255.5h1M1015 255.5h2M322 256.5h2M463 256.5h2M564 256.5h1M1013 256.5h2M321 257.5h1M465 257.5h1M563 257.5h1M1011 257.5h2M319 258.5h2M466 258.5h2M561 258.5h2M849 258.5h1M1009 258.5h2M317 259.5h2M468 259.5h2M560 259.5h1M850 259.5h1M1006 259.5h3M316 260.5h1M470 260.5h2M559 260.5h1M851 260.5h1M1004 260.5h2M314 261.5h2M472 261.5h2M557 261.5h2M852 261.5h1M1003 261.5h1M313 262.5h1M474 262.5h2M556 262.5h1M853 262.5h1M1001 262.5h2M311 263.5h2M476 263.5h2M554 263.5h2M854 263.5h1M1000 263.5h1M309 264.5h2M478 264.5h2M553 264.5h1M855 264.5h2M999 264.5h1M308 265.5h1M480 265.5h2M551 265.5h2M857 265.5h1M997 265.5h2M482 266.5h2M549 266.5h2M858 266.5h1M996 266.5h1M484 267.5h2M548 267.5h1M859 267.5h1M995 267.5h1M306 268.5h1M486 268.5h2M546 268.5h2M860 268.5h1M993 268.5h2M488 269.5h2M544 269.5h2M861 269.5h2M992 269.5h1M490 270.5h2M542 270.5h2M863 270.5h1M991 270.5h1M304 271.5h1M492 271.5h1M539 271.5h3M864 271.5h1M989 271.5h2M493 272.5h2M537 272.5h2M865 272.5h2M988 272.5h1M495 273.5h2M534 273.5h3M867 273.5h1M987 273.5h1M302 274.5h1M497 274.5h1M529 274.5h5M868 274.5h1M986 274.5h1M498 275.5h2M521 275.5h8M869 275.5h2M985 275.5h1M500 276.5h21M871 276.5h1M983 276.5h2M300 277.5h1M872 277.5h1M982 277.5h1M873 278.5h2M981 278.5h1M875 279.5h1M980 279.5h1M298 280.5h1M876 280.5h1M979 280.5h1M297 281.5h1M877 281.5h1M977 281.5h2M878 282.5h1M976 282.5h1M879 283.5h2M975 283.5h1M295 284.5h1M881 284.5h1M973 284.5h2M294 285.5h1M882 285.5h1M972 285.5h1M883 286.5h1M971 286.5h1M884 287.5h2M969 287.5h2M292 288.5h1M886 288.5h3M968 288.5h1M291 289.5h1M889 289.5h2M967 289.5h1M289 290.5h2M891 290.5h2M965 290.5h2M288 291.5h1M893 291.5h2M964 291.5h1M287 292.5h1M895 292.5h2M962 292.5h2M285 293.5h2M897 293.5h1M961 293.5h1M284 294.5h1M898 294.5h2M959 294.5h2M283 295.5h1M900 295.5h1M957 295.5h2M282 296.5h1M901 296.5h2M956 296.5h1M281 297.5h1M903 297.5h2M954 297.5h2M279 298.5h2M905 298.5h1M952 298.5h2M278 299.5h1M906 299.5h2M950 299.5h2M277 300.5h1M908 300.5h3M931 300.5h19M276 301.5h1M911 301.5h4M929 301.5h2M274 302.5h2M915 302.5h6M926 302.5h3M273 303.5h1M921 303.5h5M271 304.5h2M269 305.5h2M268 306.5h1M267 307.5h1M266 308.5h1M265 309.5h1M263 310.5h2M262 311.5h1M261 312.5h1M260 313.5h1M259 314.5h1M258 315.5h1M257 316.5h1M255 317.5h2M254 318.5h1M253 319.5h1M252 320.5h1M251 321.5h1M250 322.5h1M249 323.5h1M247 324.5h2M246 325.5h1M245 326.5h1M244 327.5h1M242 328.5h2M241 329.5h1M239 330.5h2M237 331.5h2M236 332.5h1M234 333.5h2M233 334.5h1M231 335.5h2M229 336.5h2M227 337.5h2M225 338.5h2M222 339.5h3M220 340.5h2M219 341.5h1M217 342.5h2M216 343.5h1M215 344.5h1M213 345.5h2M212 346.5h1M211 347.5h1M209 350.5h1M208 351.5h1M207 352.5h1M205 355.5h1M204 356.5h1M202 357.5h2M201 358.5h1M199 359.5h2M197 360.5h2M196 361.5h1M194 362.5h2M192 363.5h2M190 364.5h2M188 365.5h2M187 366.5h1M185 367.5h2M184 368.5h1M183 369.5h1M181 370.5h2M180 371.5h1M179 372.5h1M178 373.5h1M177 374.5h1M176 375.5h1M175 376.5h1M174 377.5h1M173 378.5h1M172 379.5h1M170 382.5h1M169 383.5h1M167 386.5h1M166 387.5h1M164 390.5h1M162 393.5h1M160 396.5h1M158 399.5h1M156 402.5h1M155 403.5h1M153 406.5h1M152 407.5h1M151 408.5h1M149 411.5h1M148 412.5h1M146 413.5h2M145 414.5h1M143 415.5h2M141 416.5h2M140 417.5h1M139 418.5h1M138 419.5h1M137 420.5h1M136 421.5h1M135 422.5h1M134 423.5h1M133 424.5h1M132 425.5h1M131 426.5h1M129 427.5h2M128 428.5h1M127 429.5h1M125 430.5h2M124 431.5h1M123 432.5h1M121 435.5h1M120 436.5h1M119 437.5h1M117 440.5h1M116 441.5h1M115 442.5h1M113 445.5h1M112 446.5h1M111 447.5h1M109 450.5h1M108 451.5h1M107 452.5h1M105 453.5h2M104 454.5h1M103 455.5h1M101 456.5h2M100 457.5h1M99 458.5h1M97 459.5h2M96 460.5h1M95 461.5h1M93 462.5h2M92 463.5h1M91 464.5h1M89 465.5h2M88 466.5h1M87 467.5h1M85 468.5h2M84 469.5h1M83 470.5h1M82 471.5h1M81 472.5h1M80 473.5h1M79 474.5h1M78 475.5h1M77 476.5h1M76 477.5h1M75 478.5h1M73 479.5h2M72 480.5h1M71 481.5h1M69 482.5h2M68 483.5h1M67 484.5h1M65 485.5h2M64 486.5h1M63 487.5h1M61 488.5h2M59 489.5h2M57 490.5h2M54 491.5h3M52 492.5h2M50 493.5h2M48 494.5h2M46 495.5h2M44 496.5h2M42 497.5h2M41 498.5h1M39 499.5h2M37 500.5h2M36 501.5h1M35 502.5h1M33 503.5h2M32 504.5h1M31 505.5h1M29 506.5h2M28 507.5h1M27 508.5h1M25 509.5h2M24 510.5h1M23 511.5h1M21 512.5h2M20 513.5h1M18 514.5h2M17 515.5h1M15 516.5h2M13 517.5h2M9 518.5h4M4 519.5h5" fill="none" stroke="#ff0000" stroke-width="1"/>
<path d="M72.5 525v2M78.5 518v2M82.5 513v2M88.5 506v2M288.5 340v2M296.5 331v2M753 202.5h8M769 202.5h24M739 203.5h14M761 203.5h8M793 203.5h6M735 204.5h4M799 204.5h4M731 205.5h4M803 205.5h4M727 206.5h4M807 206.5h4M724 207.5h3M811 207.5h3M722 208.5h2M814 208.5h2M720 209.5h2M816 209.5h2M1201 209.5h24M718 210.5h2M818 210.5h2M1193 210.5h8M1225 210.5h38M715 211.5h3M820 211.5h1M1187 211.5h6M1263 211.5h4M711 212.5h4M821 212.5h2M1185 212.5h2M1267 212.5h6M705 213.5h6M823 213.5h2M1182 213.5h3M1273 213.5h21M1329 213.5h4M699 214.5h6M825 214.5h1M1179 214.5h3M1294 214.5h3M1313 214.5h16M695 215.5h4M826 215.5h2M1177 215.5h2M1297 215.5h2M1305 215.5h8M691 216.5h4M828 216.5h1M1174 216.5h3M1299 216.5h6M675 217.5h6M687 217.5h4M829 217.5h2M1171 217.5h3M673 218.5h2M681 218.5h6M831 218.5h1M1169 218.5h2M670 219.5h3M832 219.5h1M1166 219.5h3M667 220.5h3M833 220.5h2M1164 220.5h2M665 221.5h2M835 221.5h1M1162 221.5h2M662 222.5h3M836 222.5h1M1160 222.5h2M657 223.5h5M837 223.5h2M1158 223.5h2M649 224.5h8M839 224.5h1M1155 224.5h3M641 225.5h8M840 225.5h1M1151 225.5h4M628 226.5h13M841 226.5h2M1147 226.5h4M626 227.5h2M843 227.5h1M1143 227.5h4M624 228.5h2M844 228.5h1M1140 228.5h3M622 229.5h2M845 229.5h2M1138 229.5h2M620 230.5h2M847 230.5h1M1136 230.5h2M618 231.5h2M848 231.5h1M1134 231.5h2M616 232.5h2M849 232.5h2M1132 232.5h2M614 233.5h2M851 233.5h1M1130 233.5h2M612 234.5h2M852 234.5h1M1128 234.5h2M610 235.5h2M853 235.5h1M1126 235.5h2M609 236.5h1M854 236.5h1M1124 236.5h2M607 237.5h2M855 237.5h2M1122 237.5h2M605 238.5h2M857 238.5h1M1121 238.5h1M604 239.5h1M858 239.5h1M1119 239.5h2M602 240.5h2M859 240.5h1M1117 240.5h2M600 241.5h2M860 241.5h1M1116 241.5h1M598 242.5h2M861 242.5h1M1114 242.5h2M596 243.5h2M862 243.5h1M1113 243.5h1M594 244.5h2M863 244.5h2M1111 244.5h2M592 245.5h2M865 245.5h1M1109 245.5h2M590 246.5h2M866 246.5h1M1108 246.5h1M587 247.5h3M867 247.5h1M1106 247.5h2M457 248.5h24M585 248.5h2M868 248.5h2M1104 248.5h2M449 249.5h8M481 249.5h6M582 249.5h3M870 249.5h3M1102 249.5h2M443 250.5h6M487 250.5h4M561 250.5h21M873 250.5h2M1099 250.5h3M441 251.5h2M491 251.5h6M505 251.5h16M555 251.5h6M875 251.5h4M1097 251.5h2M438 252.5h3M497 252.5h8M521 252.5h16M551 252.5h4M879 252.5h4M1094 252.5h3M435 253.5h3M537 253.5h14M883 253.5h3M1091 253.5h3M431 254.5h4M886 254.5h3M1089 254.5h2M427 255.5h4M889 255.5h2M1086 255.5h3M423 256.5h4M891 256.5h3M1083 256.5h3M420 257.5h3M894 257.5h2M1079 257.5h4M418 258.5h2M896 258.5h2M1075 258.5h4M416 259.5h2M898 259.5h2M1071 259.5h4M414 260.5h2M900 260.5h2M1067 260.5h4M411 261.5h3M902 261.5h3M1065 261.5h2M407 262.5h4M905 262.5h2M1062 262.5h3M403 263.5h4M907 263.5h3M1059 263.5h3M399 264.5h4M910 264.5h2M1057 264.5h2M395 265.5h4M912 265.5h2M1054 265.5h3M393 266.5h2M914 266.5h2M1051 266.5h3M390 267.5h3M916 267.5h5M1049 267.5h2M388 268.5h2M921 268.5h8M1046 268.5h3M386 269.5h2M929 269.5h6M1043 269.5h3M385 270.5h1M935 270.5h4M1039 270.5h4M383 271.5h2M939 271.5h6M953 271.5h8M993 271.5h16M1033 271.5h6M381 272.5h2M945 272.5h8M961 272.5h32M1009 272.5h8M1025 272.5h8M380 273.5h1M1017 273.5h8M378 274.5h2M377 275.5h1M375 276.5h2M373 277.5h2M371 278.5h2M369 279.5h2M366 280.5h3M364 281.5h2M362 282.5h2M360 283.5h2M358 284.5h2M355 285.5h3M353 286.5h2M350 287.5h3M348 288.5h2M347 289.5h1M345 290.5h2M344 291.5h1M343 292.5h1M341 293.5h2M340 294.5h1M339 295.5h1M338 296.5h1M337 297.5h1M335 298.5h2M334 299.5h1M333 300.5h1M332 301.5h1M331 302.5h1M330 303.5h1M329 304.5h1M327 305.5h2M326 306.5h1M325 307.5h1M324 308.5h1M323 309.5h1M321 310.5h2M320 311.5h1M319 312.5h1M317 313.5h2M316 314.5h1M315 315.5h1M313 316.5h2M312 317.5h1M311 318.5h1M309 319.5h2M308 320.5h1M307 321.5h1M306 322.5h1M305 323.5h1M303 324.5h2M302 325.5h1M301 326.5h1M300 327.5h1M299 328.5h1M298 329.5h1M297 330.5h1M295 333.5h1M294 334.5h1M293 335.5h1M292 336.5h1M291 337.5h1M290 338.5h1M289 339.5h1M287 342.5h1M286 343.5h1M285 344.5h1M284 345.5h1M283 346.5h1M282 347.5h1M281 348.5h1M280 349.5h1M279 350.5h1M278 351.5h1M277 352.5h1M276 353.5h1M275 354.5h1M274 355.5h1M273 356.5h1M271 357.5h2M270 358.5h1M269 359.5h1M268 360.5h1M267 361.5h1M265 362.5h2M264 363.5h1M263 364.5h1M261 365.5h2M260 366.5h1M259 367.5h1M258 368.5h1M257 369.5h1M256 370.5h1M255 371.5h1M254 372.5h1M253 373.5h1M252 374.5h1M251 375.5h1M250 376.5h1M249 377.5h1M248 378.5h1M247 379.5h1M246 380.5h1M245 381.5h1M244 382.5h1M243 383.5h1M242 384.5h1M241 385.5h1M239 386.5h2M238 387.5h1M237 388.5h1M236 389.5h1M235 390.5h1M234 391.5h1M233 392.5h1M231 393.5h2M230 394.5h1M229 395.5h1M228 396.5h1M227 397.5h1M226 398.5h1M225 399.5h1M223 400.5h2M222 401.5h1M221 402.5h1M220 403.5h1M218 404.5h2M217 405.5h1M215 406.5h2M213 407.5h2M212 408.5h1M211 409.5h1M210 410.5h1M209 411.5h1M207 412.5h2M206 413.5h1M205 414.5h1M204 415.5h1M203 416.5h1M202 417.5h1M201 418.5h1M199 419.5h2M198 420.5h1M197 421.5h1M196 422.5h1M194 423.5h2M192 424.5h2M190 425.5h2M188 426.5h2M187 427.5h1M185 428.5h2M184 429.5h1M183 430.5h1M181 431.5h2M180 432.5h1M179 433.5h1M178 434.5h1M177 435.5h1M175 436.5h2M174 437.5h1M173 438.5h1M172 439.5h1M171 440.5h1M170 441.5h1M169 442.5h1M168 443.5h1M167 444.5h1M166 445.5h1M165 446.5h1M164 447.5h1M163 448.5h1M162 449.5h1M161 450.5h1M160 451.5h1M159 452.5h1M158 453.5h1M157 454.5h1M156 455.5h1M155 456.5h1M154 457.5h1M153 458.5h1M151 459.5h2M150 460.5h1M149 461.5h1M148 462.5h1M146 463.5h2M145 464.5h1M143 465.5h2M141 466.5h2M140 467.5h1M139 468.5h1M137 469.5h2M136 470.5h1M135 471.5h1M133 472.5h2M132 473.5h1M131 474.5h1M129 475.5h2M128 476.5h1M127 477.5h1M125 478.5h2M124 479.5h1M122 480.5h2M121 481.5h1M119 482.5h2M117 483.5h2M116 484.5h1M114 485.5h2M113 486.5h1M111 487.5h2M109 488.5h2M108 489.5h1M107 490.5h1M106 491.5h1M105 492.5h1M103 493.5h2M102 494.5h1M101 495.5h1M100 496.5h1M99 497.5h1M97 498.5h2M96 499.5h1M95 500.5h1M93 501.5h2M92 502.5h1M91 503.5h1M90 504.5h1M89 505.5h1M87 508.5h1M86 509.5h1M85 510.5h1M84 511.5h1M83 512.5h1M81 515.5h1M80 516.5h1M79 517.5h1M77 520.5h1M76 521.5h1M75 522.5h1M74 523.5h1M73 524.5h1M71 527.5h1M70 528.5h1M69 529.5h1M68 530.5h1M67 531.5h1M66 532.5h1M65 533.5h1M64 534.5h1M63 535.5h1M62 536.5h1M61 537.5h1M60 538.5h1M59 539.5h1M58 540.5h1M57 541.5h1M55 542.5h2M54 543.5h1M53 544.5h1M52 545.5h1M50 546.5h2M48 547.5h2M46 548.5h2M44 549.5h2M42 550.5h2M40 551.5h2M38 552.5h2M36 553.5h2M34 554.5h2M33 555.5h1M31 556.5h2M29 557.5h2M28 558.5h1" fill="none" stroke="#0000cd" stroke-width="1"/>
<rect x="4" y="117" width="1680" height="2" fill="#ff0000"/>
<rect x="4" y="182" width="1680" height="2" fill="#ff0000"/>
<rect x="4" y="264" width="1680" height="2" fill="#00ff00"/>
<rect x="4" y="342" width="1680" height="2" fill="#0000ff"/>
<rect x="4" y="447" width="1680" height="2" fill="#0000ff"/>
</g>
<g shape-rendering="crispEdges">
<rect x="3" y="115" width="6" height="6" fill="#ff0000"/>
<rect x="5" y="117" width="2" height="2" fill="#ffffff"/>
<rect x="1678" y="115" width="6" height="6" fill="#ff0000"/>
<rect x="1680" y="117" width="2" height="2" fill="#ffffff"/>
<rect x="3" y="180" width="6" height="6" fill="#ff0000"/>
<rect x="5" y="182" width="2" height="2" fill="#ffffff"/>
<rect x="1678" y="180" width="6" height="6" fill="#ff0000"/>
<rect x="1680" y="182" width="2" height="2" fill="#ffffff"/>
<rect x="3" y="262" width="6" height="6" fill="#00ff00"/>
<rect x="5" y="264" width="2" height="2" fill="#ffffff"/>
<rect x="1678" y="262" width="6" height="6" fill="#00ff00"/>
<rect x="1680" y="264" width="2" height="2" fill="#ffffff"/>
<rect x="1685" y="52" width="2" height="1" fill="#000"/>
<rect x="1685" y="85" width="2" height="1" fill="#000"/>
<rect x="1685" y="118" width="2" height="1" fill="#000"/>
<rect x="1685" y="151" width="2" height="1" fill="#000"/>
<rect x="1685" y="184" width="2" height="1" fill="#000"/>
<rect x="1685" y="217" width="2" height="1" fill="#000"/>
<rect x="1685" y="250" width="2" height="1" fill="#000"/>
<rect x="1685" y="283" width="2" height="1" fill="#000"/>
<rect x="1685" y="316" width="2" height="1" fill="#000"/>
<rect x="1685" y="349" width="2" height="1" fill="#000"/>
<rect x="1685" y="382" width="2" height="1" fill="#000"/>
<rect x="1685" y="415" width="2" height="1" fill="#000"/>
<rect x="1685" y="448" width="2" height="1" fill="#000"/>
<rect x="1685" y="481" width="2" height="1" fill="#000"/>
<rect x="1685" y="514" width="2" height="1" fill="#000"/>
<rect x="1685" y="547" width="2" height="1" fill="#000"/>
</g>
<text x="1690" y="55.8" font-size="9.7" fill="#000" stroke="#000" stroke-width="0.18" textLength="33" lengthAdjust="spacingAndGlyphs">0.80040</text>
<text x="1690" y="88.8" font-size="9.7" fill="#000" stroke="#000" stroke-width="0.18" textLength="33" lengthAdjust="spacingAndGlyphs">0.79530</text>
<text x="1690" y="154.8" font-size="9.7" fill="#000" stroke="#000" stroke-width="0.18" textLength="33" lengthAdjust="spacingAndGlyphs">0.78525</text>
<text x="1690" y="253.8" font-size="9.7" fill="#000" stroke="#000" stroke-width="0.18" textLength="33" lengthAdjust="spacingAndGlyphs">0.77010</text>
<text x="1690" y="286.8" font-size="9.7" fill="#000" stroke="#000" stroke-width="0.18" textLength="33" lengthAdjust="spacingAndGlyphs">0.76515</text>
<text x="1690" y="319.8" font-size="9.7" fill="#000" stroke="#000" stroke-width="0.18" textLength="33" lengthAdjust="spacingAndGlyphs">0.76005</text>
<text x="1690" y="352.8" font-size="9.7" fill="#000" stroke="#000" stroke-width="0.18" textLength="33" lengthAdjust="spacingAndGlyphs">0.75510</text>
<text x="1690" y="385.8" font-size="9.7" fill="#000" stroke="#000" stroke-width="0.18" textLength="33" lengthAdjust="spacingAndGlyphs">0.75000</text>
<text x="1690" y="418.8" font-size="9.7" fill="#000" stroke="#000" stroke-width="0.18" textLength="33" lengthAdjust="spacingAndGlyphs">0.74505</text>
<text x="1690" y="484.8" font-size="9.7" fill="#000" stroke="#000" stroke-width="0.18" textLength="33" lengthAdjust="spacingAndGlyphs">0.73500</text>
<text x="1690" y="517.8" font-size="9.7" fill="#000" stroke="#000" stroke-width="0.18" textLength="33" lengthAdjust="spacingAndGlyphs">0.72990</text>
<text x="1690" y="550.8" font-size="9.7" fill="#000" stroke="#000" stroke-width="0.18" textLength="33" lengthAdjust="spacingAndGlyphs">0.72495</text>
<g shape-rendering="crispEdges">
<rect x="1686" y="112" width="41" height="11" fill="#ff0000"/>
<rect x="1686" y="177" width="41" height="11" fill="#ff0000"/>
<rect x="1686" y="214" width="41" height="11" fill="#000000"/>
<rect x="1686" y="259" width="41" height="11" fill="#00ff00"/>
<rect x="1686" y="337" width="41" height="11" fill="#0000ff"/>
<rect x="1686" y="442" width="41" height="11" fill="#0000ff"/>
<rect x="1685" y="219" width="1" height="1" fill="#000"/>
</g>
<text x="1690" y="120.8" font-size="9.7" fill="#fff" stroke="#fff" stroke-width="0.18" textLength="33" lengthAdjust="spacingAndGlyphs">0.79023</text>
<text x="1690" y="185.8" font-size="9.7" fill="#fff" stroke="#fff" stroke-width="0.18" textLength="33" lengthAdjust="spacingAndGlyphs">0.78032</text>
<text x="1690" y="222.8" font-size="9.7" fill="#fff" stroke="#fff" stroke-width="0.18" textLength="33" lengthAdjust="spacingAndGlyphs">0.77482</text>
<text x="1690" y="267.8" font-size="9.7" fill="#fff" stroke="#fff" stroke-width="0.18" textLength="33" lengthAdjust="spacingAndGlyphs">0.76794</text>
<text x="1690" y="345.8" font-size="9.7" fill="#fff" stroke="#fff" stroke-width="0.18" textLength="33" lengthAdjust="spacingAndGlyphs">0.75603</text>
<text x="1690" y="450.8" font-size="9.7" fill="#fff" stroke="#fff" stroke-width="0.18" textLength="33" lengthAdjust="spacingAndGlyphs">0.74000</text>
<path d="M7 30.5 L14.5 30.5 L10.75 34.8 Z" fill="#000"/>
<text x="19.7" y="35.8" font-size="9.7" fill="#000" stroke="#000" stroke-width="0.18" textLength="65.3" lengthAdjust="spacingAndGlyphs">AUDUSD,Daily</text>
<text x="91.0" y="35.8" font-size="9.7" fill="#000" stroke="#000" stroke-width="0.18" textLength="33" lengthAdjust="spacingAndGlyphs">0.77635</text>
<text x="126.95" y="35.8" font-size="9.7" fill="#000" stroke="#000" stroke-width="0.18" textLength="33" lengthAdjust="spacingAndGlyphs">0.77644</text>
<text x="162.9" y="35.8" font-size="9.7" fill="#000" stroke="#000" stroke-width="0.18" textLength="33" lengthAdjust="spacingAndGlyphs">0.77482</text>
<text x="198.85000000000002" y="35.8" font-size="9.7" fill="#000" stroke="#000" stroke-width="0.18" textLength="33" lengthAdjust="spacingAndGlyphs">0.77482</text>
<g shape-rendering="crispEdges" clip-path="url(#cr)">
<rect x="5" y="582" width="3" height="1" fill="#c0c0c0"/>
<rect x="11" y="582" width="3" height="1" fill="#c0c0c0"/>
<rect x="17" y="582" width="3" height="1" fill="#c0c0c0"/>
<rect x="23" y="582" width="3" height="1" fill="#c0c0c0"/>
<rect x="29" y="582" width="3" height="1" fill="#c0c0c0"/>
<rect x="35" y="582" width="3" height="1" fill="#c0c0c0"/>
<rect x="41" y="582" width="3" height="1" fill="#c0c0c0"/>
<rect x="47" y="582" width="3" height="1" fill="#c0c0c0"/>
<rect x="53" y="582" width="3" height="1" fill="#c0c0c0"/>
<rect x="59" y="582" width="3" height="1" fill="#c0c0c0"/>
<rect x="65" y="582" width="3" height="1" fill="#c0c0c0"/>
<rect x="71" y="582" width="3" height="1" fill="#c0c0c0"/>
<rect x="77" y="582" width="3" height="1" fill="#c0c0c0"/>
<rect x="83" y="582" width="3" height="1" fill="#c0c0c0"/>
<rect x="89" y="582" width="3" height="1" fill="#c0c0c0"/>
<rect x="95" y="582" width="3" height="1" fill="#c0c0c0"/>
<rect x="101" y="582" width="3" height="1" fill="#c0c0c0"/>
<rect x="107" y="582" width="3" height="1" fill="#c0c0c0"/>
<rect x="113" y="582" width="3" height="1" fill="#c0c0c0"/>
<rect x="119" y="582" width="3" height="1" fill="#c0c0c0"/>
<rect x="125" y="582" width="3" height="1" fill="#c0c0c0"/>
<rect x="131" y="582" width="3" height="1" fill="#c0c0c0"/>
<rect x="137" y="582" width="3" height="1" fill="#c0c0c0"/>
<rect x="143" y="582" width="3" height="1" fill="#c0c0c0"/>
<rect x="149" y="582" width="3" height="1" fill="#c0c0c0"/>
<rect x="155" y="582" width="3" height="1" fill="#c0c0c0"/>
<rect x="161" y="582" width="3" height="1" fill="#c0c0c0"/>
<rect x="167" y="582" width="3" height="1" fill="#c0c0c0"/>
<rect x="173" y="582" width="3" height="1" fill="#c0c0c0"/>
<rect x="179" y="582" width="3" height="1" fill="#c0c0c0"/>
<rect x="185" y="582" width="3" height="1" fill="#c0c0c0"/>
<rect x="191" y="582" width="3" height="1" fill="#c0c0c0"/>
<rect x="197" y="582" width="3" height="1" fill="#c0c0c0"/>
<rect x="203" y="582" width="3" height="1" fill="#c0c0c0"/>
<rect x="209" y="582" width="3" height="1" fill="#c0c0c0"/>
<rect x="215" y="582" width="3" height="1" fill="#c0c0c0"/>
<rect x="221" y="582" width="3" height="1" fill="#c0c0c0"/>
<rect x="227" y="582" width="3" height="1" fill="#c0c0c0"/>
<rect x="233" y="582" width="3" height="1" fill="#c0c0c0"/>
<rect x="239" y="582" width="3" height="1" fill="#c0c0c0"/>
<rect x="245" y="582" width="3" height="1" fill="#c0c0c0"/>
<rect x="251" y="582" width="3" height="1" fill="#c0c0c0"/>
<rect x="257" y="582" width="3" height="1" fill="#c0c0c0"/>
<rect x="263" y="582" width="3" height="1" fill="#c0c0c0"/>
<rect x="269" y="582" width="3" height="1" fill="#c0c0c0"/>
<rect x="275" y="582" width="3" height="1" fill="#c0c0c0"/>
<rect x="281" y="582" width="3" height="1" fill="#c0c0c0"/>
<rect x="287" y="582" width="3" height="1" fill="#c0c0c0"/>
<rect x="293" y="582" width="3" height="1" fill="#c0c0c0"/>
<rect x="299" y="582" width="3" height="1" fill="#c0c0c0"/>
<rect x="305" y="582" width="3" height="1" fill="#c0c0c0"/>
<rect x="311" y="582" width="3" height="1" fill="#c0c0c0"/>
<rect x="317" y="582" width="3" height="1" fill="#c0c0c0"/>
<rect x="323" y="582" width="3" height="1" fill="#c0c0c0"/>
<rect x="329" y="582" width="3" height="1" fill="#c0c0c0"/>
<rect x="335" y="582" width="3" height="1" fill="#c0c0c0"/>
<rect x="341" y="582" width="3" height="1" fill="#c0c0c0"/>
<rect x="347" y="582" width="3" height="1" fill="#c0c0c0"/>
<rect x="353" y="582" width="3" height="1" fill="#c0c0c0"/>
<rect x="359" y="582" width="3" height="1" fill="#c0c0c0"/>
<rect x="365" y="582" width="3" height="1" fill="#c0c0c0"/>
<rect x="371" y="582" width="3" height="1" fill="#c0c0c0"/>
<rect x="377" y="582" width="3" height="1" fill="#c0c0c0"/>
<rect x="383" y="582" width="3" height="1" fill="#c0c0c0"/>
<rect x="389" y="582" width="3" height="1" fill="#c0c0c0"/>
<rect x="395" y="582" width="3" height="1" fill="#c0c0c0"/>
<rect x="401" y="582" width="3" height="1" fill="#c0c0c0"/>
<rect x="407" y="582" width="3" height="1" fill="#c0c0c0"/>
<rect x="413" y="582" width="3" height="1" fill="#c0c0c0"/>
<rect x="419" y="582" width="3" height="1" fill="#c0c0c0"/>
<rect x="425" y="582" width="3" height="1" fill="#c0c0c0"/>
<rect x="431" y="582" width="3" height="1" fill="#c0c0c0"/>
<rect x="437" y="582" width="3" height="1" fill="#c0c0c0"/>
<rect x="443" y="582" width="3" height="1" fill="#c0c0c0"/>
<rect x="449" y="582" width="3" height="1" fill="#c0c0c0"/>
<rect x="455" y="582" width="3" height="1" fill="#c0c0c0"/>
<rect x="461" y="582" width="3" height="1" fill="#c0c0c0"/>
<rect x="467" y="582" width="3" height="1" fill="#c0c0c0"/>
<rect x="473" y="582" width="3" height="1" fill="#c0c0c0"/>
<rect x="479" y="582" width="3" height="1" fill="#c0c0c0"/>
<rect x="485" y="582" width="3" height="1" fill="#c0c0c0"/>
<rect x="491" y="582" width="3" height="1" fill="#c0c0c0"/>
<rect x="497" y="582" width="3" height="1" fill="#c0c0c0"/>
<rect x="503" y="582" width="3" height="1" fill="#c0c0c0"/>
<rect x="509" y="582" width="3" height="1" fill="#c0c0c0"/>
<rect x="515" y="582" width="3" height="1" fill="#c0c0c0"/>
<rect x="521" y="582" width="3" height="1" fill="#c0c0c0"/>
<rect x="527" y="582" width="3" height="1" fill="#c0c0c0"/>
<rect x="533" y="582" width="3" height="1" fill="#c0c0c0"/>
<rect x="539" y="582" width="3" height="1" fill="#c0c0c0"/>
<rect x="545" y="582" width="3" height="1" fill="#c0c0c0"/>
<rect x="551" y="582" width="3" height="1" fill="#c0c0c0"/>
<rect x="557" y="582" width="3" height="1" fill="#c0c0c0"/>
<rect x="563" y="582" width="3" height="1" fill="#c0c0c0"/>
<rect x="569" y="582" width="3" height="1" fill="#c0c0c0"/>
<rect x="575" y="582" width="3" height="1" fill="#c0c0c0"/>
<rect x="581" y="582" width="3" height="1" fill="#c0c0c0"/>
<rect x="587" y="582" width="3" height="1" fill="#c0c0c0"/>
<rect x="593" y="582" width="3" height="1" fill="#c0c0c0"/>
<rect x="599" y="582" width="3" height="1" fill="#c0c0c0"/>
<rect x="605" y="582" width="3" height="1" fill="#c0c0c0"/>
<rect x="611" y="582" width="3" height="1" fill="#c0c0c0"/>
<rect x="617" y="582" width="3" height="1" fill="#c0c0c0"/>
<rect x="623" y="582" width="3" height="1" fill="#c0c0c0"/>
<rect x="629" y="582" width="3" height="1" fill="#c0c0c0"/>
<rect x="635" y="582" width="3" height="1" fill="#c0c0c0"/>
<rect x="641" y="582" width="3" height="1" fill="#c0c0c0"/>
<rect x="647" y="582" width="3" height="1" fill="#c0c0c0"/>
<rect x="653" y="582" width="3" height="1" fill="#c0c0c0"/>
<rect x="659" y="582" width="3" height="1" fill="#c0c0c0"/>
<rect x="665" y="582" width="3" height="1" fill="#c0c0c0"/>
<rect x="671" y="582" width="3" height="1" fill="#c0c0c0"/>
<rect x="677" y="582" width="3" height="1" fill="#c0c0c0"/>
<rect x="683" y="582" width="3" height="1" fill="#c0c0c0"/>
<rect x="689" y="582" width="3" height="1" fill="#c0c0c0"/>
<rect x="695" y="582" width="3" height="1" fill="#c0c0c0"/>
<rect x="701" y="582" width="3" height="1" fill="#c0c0c0"/>
<rect x="707" y="582" width="3" height="1" fill="#c0c0c0"/>
<rect x="713" y="582" width="3" height="1" fill="#c0c0c0"/>
<rect x="719" y="582" width="3" height="1" fill="#c0c0c0"/>
<rect x="725" y="582" width="3" height="1" fill="#c0c0c0"/>
<rect x="731" y="582" width="3" height="1" fill="#c0c0c0"/>
<rect x="737" y="582" width="3" height="1" fill="#c0c0c0"/>
<rect x="743" y="582" width="3" height="1" fill="#c0c0c0"/>
<rect x="749" y="582" width="3" height="1" fill="#c0c0c0"/>
<rect x="755" y="582" width="3" height="1" fill="#c0c0c0"/>
<rect x="761" y="582" width="3" height="1" fill="#c0c0c0"/>
<rect x="767" y="582" width="3" height="1" fill="#c0c0c0"/>
<rect x="773" y="582" width="3" height="1" fill="#c0c0c0"/>
<rect x="779" y="582" width="3" height="1" fill="#c0c0c0"/>
<rect x="785" y="582" width="3" height="1" fill="#c0c0c0"/>
<rect x="791" y="582" width="3" height="1" fill="#c0c0c0"/>
<rect x="797" y="582" width="3" height="1" fill="#c0c0c0"/>
<rect x="803" y="582" width="3" height="1" fill="#c0c0c0"/>
<rect x="809" y="582" width="3" height="1" fill="#c0c0c0"/>
<rect x="815" y="582" width="3" height="1" fill="#c0c0c0"/>
<rect x="821" y="582" width="3" height="1" fill="#c0c0c0"/>
<rect x="827" y="582" width="3" height="1" fill="#c0c0c0"/>
<rect x="833" y="582" width="3" height="1" fill="#c0c0c0"/>
<rect x="839" y="582" width="3" height="1" fill="#c0c0c0"/>
<rect x="845" y="582" width="3" height="1" fill="#c0c0c0"/>
<rect x="851" y="582" width="3" height="1" fill="#c0c0c0"/>
<rect x="857" y="582" width="3" height="1" fill="#c0c0c0"/>
<rect x="863" y="582" width="3" height="1" fill="#c0c0c0"/>
<rect x="869" y="582" width="3" height="1" fill="#c0c0c0"/>
<rect x="875" y="582" width="3" height="1" fill="#c0c0c0"/>
<rect x="881" y="582" width="3" height="1" fill="#c0c0c0"/>
<rect x="887" y="582" width="3" height="1" fill="#c0c0c0"/>
<rect x="893" y="582" width="3" height="1" fill="#c0c0c0"/>
<rect x="899" y="582" width="3" height="1" fill="#c0c0c0"/>
<rect x="905" y="582" width="3" height="1" fill="#c0c0c0"/>
<rect x="911" y="582" width="3" height="1" fill="#c0c0c0"/>
<rect x="917" y="582" width="3" height="1" fill="#c0c0c0"/>
<rect x="923" y="582" width="3" height="1" fill="#c0c0c0"/>
<rect x="929" y="582" width="3" height="1" fill="#c0c0c0"/>
<rect x="935" y="582" width="3" height="1" fill="#c0c0c0"/>
<rect x="941" y="582" width="3" height="1" fill="#c0c0c0"/>
<rect x="947" y="582" width="3" height="1" fill="#c0c0c0"/>
<rect x="953" y="582" width="3" height="1" fill="#c0c0c0"/>
<rect x="959" y="582" width="3" height="1" fill="#c0c0c0"/>
<rect x="965" y="582" width="3" height="1" fill="#c0c0c0"/>
<rect x="971" y="582" width="3" height="1" fill="#c0c0c0"/>
<rect x="977" y="582" width="3" height="1" fill="#c0c0c0"/>
<rect x="983" y="582" width="3" height="1" fill="#c0c0c0"/>
<rect x="989" y="582" width="3" height="1" fill="#c0c0c0"/>
<rect x="995" y="582" width="3" height="1" fill="#c0c0c0"/>
<rect x="1001" y="582" width="3" height="1" fill="#c0c0c0"/>
<rect x="1007" y="582" width="3" height="1" fill="#c0c0c0"/>
<rect x="1013" y="582" width="3" height="1" fill="#c0c0c0"/>
<rect x="1019" y="582" width="3" height="1" fill="#c0c0c0"/>
<rect x="1025" y="582" width="3" height="1" fill="#c0c0c0"/>
<rect x="1031" y="582" width="3" height="1" fill="#c0c0c0"/>
<rect x="1037" y="582" width="3" height="1" fill="#c0c0c0"/>
<rect x="1043" y="582" width="3" height="1" fill="#c0c0c0"/>
<rect x="1049" y="582" width="3" height="1" fill="#c0c0c0"/>
<rect x="1055" y="582" width="3" height="1" fill="#c0c0c0"/>
<rect x="1061" y="582" width="3" height="1" fill="#c0c0c0"/>
<rect x="1067" y="582" width="3" height="1" fill="#c0c0c0"/>
<rect x="1073" y="582" width="3" height="1" fill="#c0c0c0"/>
<rect x="1079" y="582" width="3" height="1" fill="#c0c0c0"/>
<rect x="1085" y="582" width="3" height="1" fill="#c0c0c0"/>
<rect x="1091" y="582" width="3" height="1" fill="#c0c0c0"/>
<rect x="1097" y="582" width="3" height="1" fill="#c0c0c0"/>
<rect x="1103" y="582" width="3" height="1" fill="#c0c0c0"/>
<rect x="1109" y="582" width="3" height="1" fill="#c0c0c0"/>
<rect x="1115" y="582" width="3" height="1" fill="#c0c0c0"/>
<rect x="1121" y="582" width="3" height="1" fill="#c0c0c0"/>
<rect x="1127" y="582" width="3" height="1" fill="#c0c0c0"/>
<rect x="1133" y="582" width="3" height="1" fill="#c0c0c0"/>
<rect x="1139" y="582" width="3" height="1" fill="#c0c0c0"/>
<rect x="1145" y="582" width="3" height="1" fill="#c0c0c0"/>
<rect x="1151" y="582" width="3" height="1" fill="#c0c0c0"/>
<rect x="1157" y="582" width="3" height="1" fill="#c0c0c0"/>
<rect x="1163" y="582" width="3" height="1" fill="#c0c0c0"/>
<rect x="1169" y="582" width="3" height="1" fill="#c0c0c0"/>
<rect x="1175" y="582" width="3" height="1" fill="#c0c0c0"/>
<rect x="1181" y="582" width="3" height="1" fill="#c0c0c0"/>
<rect x="1187" y="582" width="3" height="1" fill="#c0c0c0"/>
<rect x="1193" y="582" width="3" height="1" fill="#c0c0c0"/>
<rect x="1199" y="582" width="3" height="1" fill="#c0c0c0"/>
<rect x="1205" y="582" width="3" height="1" fill="#c0c0c0"/>
<rect x="1211" y="582" width="3" height="1" fill="#c0c0c0"/>
<rect x="1217" y="582" width="3" height="1" fill="#c0c0c0"/>
<rect x="1223" y="582" width="3" height="1" fill="#c0c0c0"/>
<rect x="1229" y="582" width="3" height="1" fill="#c0c0c0"/>
<rect x="1235" y="582" width="3" height="1" fill="#c0c0c0"/>
<rect x="1241" y="582" width="3" height="1" fill="#c0c0c0"/>
<rect x="1247" y="582" width="3" height="1" fill="#c0c0c0"/>
<rect x="1253" y="582" width="3" height="1" fill="#c0c0c0"/>
<rect x="1259" y="582" width="3" height="1" fill="#c0c0c0"/>
<rect x="1265" y="582" width="3" height="1" fill="#c0c0c0"/>
<rect x="1271" y="582" width="3" height="1" fill="#c0c0c0"/>
<rect x="1277" y="582" width="3" height="1" fill="#c0c0c0"/>
<rect x="1283" y="582" width="3" height="1" fill="#c0c0c0"/>
<rect x="1289" y="582" width="3" height="1" fill="#c0c0c0"/>
<rect x="1295" y="582" width="3" height="1" fill="#c0c0c0"/>
<rect x="1301" y="582" width="3" height="1" fill="#c0c0c0"/>
<rect x="1307" y="582" width="3" height="1" fill="#c0c0c0"/>
<rect x="1313" y="582" width="3" height="1" fill="#c0c0c0"/>
<rect x="1319" y="582" width="3" height="1" fill="#c0c0c0"/>
<rect x="1325" y="582" width="3" height="1" fill="#c0c0c0"/>
<rect x="1331" y="582" width="3" height="1" fill="#c0c0c0"/>
<rect x="1337" y="582" width="3" height="1" fill="#c0c0c0"/>
<rect x="1343" y="582" width="3" height="1" fill="#c0c0c0"/>
<rect x="1349" y="582" width="3" height="1" fill="#c0c0c0"/>
<rect x="1355" y="582" width="3" height="1" fill="#c0c0c0"/>
<rect x="1361" y="582" width="3" height="1" fill="#c0c0c0"/>
<rect x="1367" y="582" width="3" height="1" fill="#c0c0c0"/>
<rect x="1373" y="582" width="3" height="1" fill="#c0c0c0"/>
<rect x="1379" y="582" width="3" height="1" fill="#c0c0c0"/>
<rect x="1385" y="582" width="3" height="1" fill="#c0c0c0"/>
<rect x="1391" y="582" width="3" height="1" fill="#c0c0c0"/>
<rect x="1397" y="582" width="3" height="1" fill="#c0c0c0"/>
<rect x="1403" y="582" width="3" height="1" fill="#c0c0c0"/>
<rect x="1409" y="582" width="3" height="1" fill="#c0c0c0"/>
<rect x="1415" y="582" width="3" height="1" fill="#c0c0c0"/>
<rect x="1421" y="582" width="3" height="1" fill="#c0c0c0"/>
<rect x="1427" y="582" width="3" height="1" fill="#c0c0c0"/>
<rect x="1433" y="582" width="3" height="1" fill="#c0c0c0"/>
<rect x="1439" y="582" width="3" height="1" fill="#c0c0c0"/>
<rect x="1445" y="582" width="3" height="1" fill="#c0c0c0"/>
<rect x="1451" y="582" width="3" height="1" fill="#c0c0c0"/>
<rect x="1457" y="582" width="3" height="1" fill="#c0c0c0"/>
<rect x="1463" y="582" width="3" height="1" fill="#c0c0c0"/>
<rect x="1469" y="582" width="3" height="1" fill="#c0c0c0"/>
<rect x="1475" y="582" width="3" height="1" fill="#c0c0c0"/>
<rect x="1481" y="582" width="3" height="1" fill="#c0c0c0"/>
<rect x="1487" y="582" width="3" height="1" fill="#c0c0c0"/>
<rect x="1493" y="582" width="3" height="1" fill="#c0c0c0"/>
<rect x="1499" y="582" width="3" height="1" fill="#c0c0c0"/>
<rect x="1505" y="582" width="3" height="1" fill="#c0c0c0"/>
<rect x="1511" y="582" width="3" height="1" fill="#c0c0c0"/>
<rect x="1517" y="582" width="3" height="1" fill="#c0c0c0"/>
<rect x="1523" y="582" width="3" height="1" fill="#c0c0c0"/>
<rect x="1529" y="582" width="3" height="1" fill="#c0c0c0"/>
<rect x="1535" y="582" width="3" height="1" fill="#c0c0c0"/>
<rect x="1541" y="582" width="3" height="1" fill="#c0c0c0"/>
<rect x="1547" y="582" width="3" height="1" fill="#c0c0c0"/>
<rect x="1553" y="582" width="3" height="1" fill="#c0c0c0"/>
<rect x="1559" y="582" width="3" height="1" fill="#c0c0c0"/>
<rect x="1565" y="582" width="3" height="1" fill="#c0c0c0"/>
<rect x="1571" y="582" width="3" height="1" fill="#c0c0c0"/>
<rect x="1577" y="582" width="3" height="1" fill="#c0c0c0"/>
<rect x="1583" y="582" width="3" height="1" fill="#c0c0c0"/>
<rect x="1589" y="582" width="3" height="1" fill="#c0c0c0"/>
<rect x="1595" y="582" width="3" height="1" fill="#c0c0c0"/>
<rect x="1601" y="582" width="3" height="1" fill="#c0c0c0"/>
<rect x="1607" y="582" width="3" height="1" fill="#c0c0c0"/>
<rect x="1613" y="582" width="3" height="1" fill="#c0c0c0"/>
<rect x="1619" y="582" width="3" height="1" fill="#c0c0c0"/>
<rect x="1625" y="582" width="3" height="1" fill="#c0c0c0"/>
<rect x="1631" y="582" width="3" height="1" fill="#c0c0c0"/>
<rect x="1637" y="582" width="3" height="1" fill="#c0c0c0"/>
<rect x="1643" y="582" width="3" height="1" fill="#c0c0c0"/>
<rect x="1649" y="582" width="3" height="1" fill="#c0c0c0"/>
<rect x="1655" y="582" width="3" height="1" fill="#c0c0c0"/>
<rect x="1661" y="582" width="3" height="1" fill="#c0c0c0"/>
<rect x="1667" y="582" width="3" height="1" fill="#c0c0c0"/>
<rect x="1673" y="582" width="3" height="1" fill="#c0c0c0"/>
<rect x="1679" y="582" width="3" height="1" fill="#c0c0c0"/>
<rect x="5" y="619" width="3" height="1" fill="#c0c0c0"/>
<rect x="11" y="619" width="3" height="1" fill="#c0c0c0"/>
<rect x="17" y="619" width="3" height="1" fill="#c0c0c0"/>
<rect x="23" y="619" width="3" height="1" fill="#c0c0c0"/>
<rect x="29" y="619" width="3" height="1" fill="#c0c0c0"/>
<rect x="35" y="619" width="3" height="1" fill="#c0c0c0"/>
<rect x="41" y="619" width="3" height="1" fill="#c0c0c0"/>
<rect x="47" y="619" width="3" height="1" fill="#c0c0c0"/>
<rect x="53" y="619" width="3" height="1" fill="#c0c0c0"/>
<rect x="59" y="619" width="3" height="1" fill="#c0c0c0"/>
<rect x="65" y="619" width="3" height="1" fill="#c0c0c0"/>
<rect x="71" y="619" width="3" height="1" fill="#c0c0c0"/>
<rect x="77" y="619" width="3" height="1" fill="#c0c0c0"/>
<rect x="83" y="619" width="3" height="1" fill="#c0c0c0"/>
<rect x="89" y="619" width="3" height="1" fill="#c0c0c0"/>
<rect x="95" y="619" width="3" height="1" fill="#c0c0c0"/>
<rect x="101" y="619" width="3" height="1" fill="#c0c0c0"/>
<rect x="107" y="619" width="3" height="1" fill="#c0c0c0"/>
<rect x="113" y="619" width="3" height="1" fill="#c0c0c0"/>
<rect x="119" y="619" width="3" height="1" fill="#c0c0c0"/>
<rect x="125" y="619" width="3" height="1" fill="#c0c0c0"/>
<rect x="131" y="619" width="3" height="1" fill="#c0c0c0"/>
<rect x="137" y="619" width="3" height="1" fill="#c0c0c0"/>
<rect x="143" y="619" width="3" height="1" fill="#c0c0c0"/>
<rect x="149" y="619" width="3" height="1" fill="#c0c0c0"/>
<rect x="155" y="619" width="3" height="1" fill="#c0c0c0"/>
<rect x="161" y="619" width="3" height="1" fill="#c0c0c0"/>
<rect x="167" y="619" width="3" height="1" fill="#c0c0c0"/>
<rect x="173" y="619" width="3" height="1" fill="#c0c0c0"/>
<rect x="179" y="619" width="3" height="1" fill="#c0c0c0"/>
<rect x="185" y="619" width="3" height="1" fill="#c0c0c0"/>
<rect x="191" y="619" width="3" height="1" fill="#c0c0c0"/>
<rect x="197" y="619" width="3" height="1" fill="#c0c0c0"/>
<rect x="203" y="619" width="3" height="1" fill="#c0c0c0"/>
<rect x="209" y="619" width="3" height="1" fill="#c0c0c0"/>
<rect x="215" y="619" width="3" height="1" fill="#c0c0c0"/>
<rect x="221" y="619" width="3" height="1" fill="#c0c0c0"/>
<rect x="227" y="619" width="3" height="1" fill="#c0c0c0"/>
<rect x="233" y="619" width="3" height="1" fill="#c0c0c0"/>
<rect x="239" y="619" width="3" height="1" fill="#c0c0c0"/>
<rect x="245" y="619" width="3" height="1" fill="#c0c0c0"/>
<rect x="251" y="619" width="3" height="1" fill="#c0c0c0"/>
<rect x="257" y="619" width="3" height="1" fill="#c0c0c0"/>
<rect x="263" y="619" width="3" height="1" fill="#c0c0c0"/>
<rect x="269" y="619" width="3" height="1" fill="#c0c0c0"/>
<rect x="275" y="619" width="3" height="1" fill="#c0c0c0"/>
<rect x="281" y="619" width="3" height="1" fill="#c0c0c0"/>
<rect x="287" y="619" width="3" height="1" fill="#c0c0c0"/>
<rect x="293" y="619" width="3" height="1" fill="#c0c0c0"/>
<rect x="299" y="619" width="3" height="1" fill="#c0c0c0"/>
<rect x="305" y="619" width="3" height="1" fill="#c0c0c0"/>
<rect x="311" y="619" width="3" height="1" fill="#c0c0c0"/>
<rect x="317" y="619" width="3" height="1" fill="#c0c0c0"/>
<rect x="323" y="619" width="3" height="1" fill="#c0c0c0"/>
<rect x="329" y="619" width="3" height="1" fill="#c0c0c0"/>
<rect x="335" y="619" width="3" height="1" fill="#c0c0c0"/>
<rect x="341" y="619" width="3" height="1" fill="#c0c0c0"/>
<rect x="347" y="619" width="3" height="1" fill="#c0c0c0"/>
<rect x="353" y="619" width="3" height="1" fill="#c0c0c0"/>
<rect x="359" y="619" width="3" height="1" fill="#c0c0c0"/>
<rect x="365" y="619" width="3" height="1" fill="#c0c0c0"/>
<rect x="371" y="619" width="3" height="1" fill="#c0c0c0"/>
<rect x="377" y="619" width="3" height="1" fill="#c0c0c0"/>
<rect x="383" y="619" width="3" height="1" fill="#c0c0c0"/>
<rect x="389" y="619" width="3" height="1" fill="#c0c0c0"/>
<rect x="395" y="619" width="3" height="1" fill="#c0c0c0"/>
<rect x="401" y="619" width="3" height="1" fill="#c0c0c0"/>
<rect x="407" y="619" width="3" height="1" fill="#c0c0c0"/>
<rect x="413" y="619" width="3" height="1" fill="#c0c0c0"/>
<rect x="419" y="619" width="3" height="1" fill="#c0c0c0"/>
<rect x="425" y="619" width="3" height="1" fill="#c0c0c0"/>
<rect x="431" y="619" width="3" height="1" fill="#c0c0c0"/>
<rect x="437" y="619" width="3" height="1" fill="#c0c0c0"/>
<rect x="443" y="619" width="3" height="1" fill="#c0c0c0"/>
<rect x="449" y="619" width="3" height="1" fill="#c0c0c0"/>
<rect x="455" y="619" width="3" height="1" fill="#c0c0c0"/>
<rect x="461" y="619" width="3" height="1" fill="#c0c0c0"/>
<rect x="467" y="619" width="3" height="1" fill="#c0c0c0"/>
<rect x="473" y="619" width="3" height="1" fill="#c0c0c0"/>
<rect x="479" y="619" width="3" height="1" fill="#c0c0c0"/>
<rect x="485" y="619" width="3" height="1" fill="#c0c0c0"/>
<rect x="491" y="619" width="3" height="1" fill="#c0c0c0"/>
<rect x="497" y="619" width="3" height="1" fill="#c0c0c0"/>
<rect x="503" y="619" width="3" height="1" fill="#c0c0c0"/>
<rect x="509" y="619" width="3" height="1" fill="#c0c0c0"/>
<rect x="515" y="619" width="3" height="1" fill="#c0c0c0"/>
<rect x="521" y="619" width="3" height="1" fill="#c0c0c0"/>
<rect x="527" y="619" width="3" height="1" fill="#c0c0c0"/>
<rect x="533" y="619" width="3" height="1" fill="#c0c0c0"/>
<rect x="539" y="619" width="3" height="1" fill="#c0c0c0"/>
<rect x="545" y="619" width="3" height="1" fill="#c0c0c0"/>
<rect x="551" y="619" width="3" height="1" fill="#c0c0c0"/>
<rect x="557" y="619" width="3" height="1" fill="#c0c0c0"/>
<rect x="563" y="619" width="3" height="1" fill="#c0c0c0"/>
<rect x="569" y="619" width="3" height="1" fill="#c0c0c0"/>
<rect x="575" y="619" width="3" height="1" fill="#c0c0c0"/>
<rect x="581" y="619" width="3" height="1" fill="#c0c0c0"/>
<rect x="587" y="619" width="3" height="1" fill="#c0c0c0"/>
<rect x="593" y="619" width="3" height="1" fill="#c0c0c0"/>
<rect x="599" y="619" width="3" height="1" fill="#c0c0c0"/>
<rect x="605" y="619" width="3" height="1" fill="#c0c0c0"/>
<rect x="611" y="619" width="3" height="1" fill="#c0c0c0"/>
<rect x="617" y="619" width="3" height="1" fill="#c0c0c0"/>
<rect x="623" y="619" width="3" height="1" fill="#c0c0c0"/>
<rect x="629" y="619" width="3" height="1" fill="#c0c0c0"/>
<rect x="635" y="619" width="3" height="1" fill="#c0c0c0"/>
<rect x="641" y="619" width="3" height="1" fill="#c0c0c0"/>
<rect x="647" y="619" width="3" height="1" fill="#c0c0c0"/>
<rect x="653" y="619" width="3" height="1" fill="#c0c0c0"/>
<rect x="659" y="619" width="3" height="1" fill="#c0c0c0"/>
<rect x="665" y="619" width="3" height="1" fill="#c0c0c0"/>
<rect x="671" y="619" width="3" height="1" fill="#c0c0c0"/>
<rect x="677" y="619" width="3" height="1" fill="#c0c0c0"/>
<rect x="683" y="619" width="3" height="1" fill="#c0c0c0"/>
<rect x="689" y="619" width="3" height="1" fill="#c0c0c0"/>
<rect x="695" y="619" width="3" height="1" fill="#c0c0c0"/>
<rect x="701" y="619" width="3" height="1" fill="#c0c0c0"/>
<rect x="707" y="619" width="3" height="1" fill="#c0c0c0"/>
<rect x="713" y="619" width="3" height="1" fill="#c0c0c0"/>
<rect x="719" y="619" width="3" height="1" fill="#c0c0c0"/>
<rect x="725" y="619" width="3" height="1" fill="#c0c0c0"/>
<rect x="731" y="619" width="3" height="1" fill="#c0c0c0"/>
<rect x="737" y="619" width="3" height="1" fill="#c0c0c0"/>
<rect x="743" y="619" width="3" height="1" fill="#c0c0c0"/>
<rect x="749" y="619" width="3" height="1" fill="#c0c0c0"/>
<rect x="755" y="619" width="3" height="1" fill="#c0c0c0"/>
<rect x="761" y="619" width="3" height="1" fill="#c0c0c0"/>
<rect x="767" y="619" width="3" height="1" fill="#c0c0c0"/>
<rect x="773" y="619" width="3" height="1" fill="#c0c0c0"/>
<rect x="779" y="619" width="3" height="1" fill="#c0c0c0"/>
<rect x="785" y="619" width="3" height="1" fill="#c0c0c0"/>
<rect x="791" y="619" width="3" height="1" fill="#c0c0c0"/>
<rect x="797" y="619" width="3" height="1" fill="#c0c0c0"/>
<rect x="803" y="619" width="3" height="1" fill="#c0c0c0"/>
<rect x="809" y="619" width="3" height="1" fill="#c0c0c0"/>
<rect x="815" y="619" width="3" height="1" fill="#c0c0c0"/>
<rect x="821" y="619" width="3" height="1" fill="#c0c0c0"/>
<rect x="827" y="619" width="3" height="1" fill="#c0c0c0"/>
<rect x="833" y="619" width="3" height="1" fill="#c0c0c0"/>
<rect x="839" y="619" width="3" height="1" fill="#c0c0c0"/>
<rect x="845" y="619" width="3" height="1" fill="#c0c0c0"/>
<rect x="851" y="619" width="3" height="1" fill="#c0c0c0"/>
<rect x="857" y="619" width="3" height="1" fill="#c0c0c0"/>
<rect x="863" y="619" width="3" height="1" fill="#c0c0c0"/>
<rect x="869" y="619" width="3" height="1" fill="#c0c0c0"/>
<rect x="875" y="619" width="3" height="1" fill="#c0c0c0"/>
<rect x="881" y="619" width="3" height="1" fill="#c0c0c0"/>
<rect x="887" y="619" width="3" height="1" fill="#c0c0c0"/>
<rect x="893" y="619" width="3" height="1" fill="#c0c0c0"/>
<rect x="899" y="619" width="3" height="1" fill="#c0c0c0"/>
<rect x="905" y="619" width="3" height="1" fill="#c0c0c0"/>
<rect x="911" y="619" width="3" height="1" fill="#c0c0c0"/>
<rect x="917" y="619" width="3" height="1" fill="#c0c0c0"/>
<rect x="923" y="619" width="3" height="1" fill="#c0c0c0"/>
<rect x="929" y="619" width="3" height="1" fill="#c0c0c0"/>
<rect x="935" y="619" width="3" height="1" fill="#c0c0c0"/>
<rect x="941" y="619" width="3" height="1" fill="#c0c0c0"/>
<rect x="947" y="619" width="3" height="1" fill="#c0c0c0"/>
<rect x="953" y="619" width="3" height="1" fill="#c0c0c0"/>
<rect x="959" y="619" width="3" height="1" fill="#c0c0c0"/>
<rect x="965" y="619" width="3" height="1" fill="#c0c0c0"/>
<rect x="971" y="619" width="3" height="1" fill="#c0c0c0"/>
<rect x="977" y="619" width="3" height="1" fill="#c0c0c0"/>
<rect x="983" y="619" width="3" height="1" fill="#c0c0c0"/>
<rect x="989" y="619" width="3" height="1" fill="#c0c0c0"/>
<rect x="995" y="619" width="3" height="1" fill="#c0c0c0"/>
<rect x="1001" y="619" width="3" height="1" fill="#c0c0c0"/>
<rect x="1007" y="619" width="3" height="1" fill="#c0c0c0"/>
<rect x="1013" y="619" width="3" height="1" fill="#c0c0c0"/>
<rect x="1019" y="619" width="3" height="1" fill="#c0c0c0"/>
<rect x="1025" y="619" width="3" height="1" fill="#c0c0c0"/>
<rect x="1031" y="619" width="3" height="1" fill="#c0c0c0"/>
<rect x="1037" y="619" width="3" height="1" fill="#c0c0c0"/>
<rect x="1043" y="619" width="3" height="1" fill="#c0c0c0"/>
<rect x="1049" y="619" width="3" height="1" fill="#c0c0c0"/>
<rect x="1055" y="619" width="3" height="1" fill="#c0c0c0"/>
<rect x="1061" y="619" width="3" height="1" fill="#c0c0c0"/>
<rect x="1067" y="619" width="3" height="1" fill="#c0c0c0"/>
<rect x="1073" y="619" width="3" height="1" fill="#c0c0c0"/>
<rect x="1079" y="619" width="3" height="1" fill="#c0c0c0"/>
<rect x="1085" y="619" width="3" height="1" fill="#c0c0c0"/>
<rect x="1091" y="619" width="3" height="1" fill="#c0c0c0"/>
<rect x="1097" y="619" width="3" height="1" fill="#c0c0c0"/>
<rect x="1103" y="619" width="3" height="1" fill="#c0c0c0"/>
<rect x="1109" y="619" width="3" height="1" fill="#c0c0c0"/>
<rect x="1115" y="619" width="3" height="1" fill="#c0c0c0"/>
<rect x="1121" y="619" width="3" height="1" fill="#c0c0c0"/>
<rect x="1127" y="619" width="3" height="1" fill="#c0c0c0"/>
<rect x="1133" y="619" width="3" height="1" fill="#c0c0c0"/>
<rect x="1139" y="619" width="3" height="1" fill="#c0c0c0"/>
<rect x="1145" y="619" width="3" height="1" fill="#c0c0c0"/>
<rect x="1151" y="619" width="3" height="1" fill="#c0c0c0"/>
<rect x="1157" y="619" width="3" height="1" fill="#c0c0c0"/>
<rect x="1163" y="619" width="3" height="1" fill="#c0c0c0"/>
<rect x="1169" y="619" width="3" height="1" fill="#c0c0c0"/>
<rect x="1175" y="619" width="3" height="1" fill="#c0c0c0"/>
<rect x="1181" y="619" width="3" height="1" fill="#c0c0c0"/>
<rect x="1187" y="619" width="3" height="1" fill="#c0c0c0"/>
<rect x="1193" y="619" width="3" height="1" fill="#c0c0c0"/>
<rect x="1199" y="619" width="3" height="1" fill="#c0c0c0"/>
<rect x="1205" y="619" width="3" height="1" fill="#c0c0c0"/>
<rect x="1211" y="619" width="3" height="1" fill="#c0c0c0"/>
<rect x="1217" y="619" width="3" height="1" fill="#c0c0c0"/>
<rect x="1223" y="619" width="3" height="1" fill="#c0c0c0"/>
<rect x="1229" y="619" width="3" height="1" fill="#c0c0c0"/>
<rect x="1235" y="619" width="3" height="1" fill="#c0c0c0"/>
<rect x="1241" y="619" width="3" height="1" fill="#c0c0c0"/>
<rect x="1247" y="619" width="3" height="1" fill="#c0c0c0"/>
<rect x="1253" y="619" width="3" height="1" fill="#c0c0c0"/>
<rect x="1259" y="619" width="3" height="1" fill="#c0c0c0"/>
<rect x="1265" y="619" width="3" height="1" fill="#c0c0c0"/>
<rect x="1271" y="619" width="3" height="1" fill="#c0c0c0"/>
<rect x="1277" y="619" width="3" height="1" fill="#c0c0c0"/>
<rect x="1283" y="619" width="3" height="1" fill="#c0c0c0"/>
<rect x="1289" y="619" width="3" height="1" fill="#c0c0c0"/>
<rect x="1295" y="619" width="3" height="1" fill="#c0c0c0"/>
<rect x="1301" y="619" width="3" height="1" fill="#c0c0c0"/>
<rect x="1307" y="619" width="3" height="1" fill="#c0c0c0"/>
<rect x="1313" y="619" width="3" height="1" fill="#c0c0c0"/>
<rect x="1319" y="619" width="3" height="1" fill="#c0c0c0"/>
<rect x="1325" y="619" width="3" height="1" fill="#c0c0c0"/>
<rect x="1331" y="619" width="3" height="1" fill="#c0c0c0"/>
<rect x="1337" y="619" width="3" height="1" fill="#c0c0c0"/>
<rect x="1343" y="619" width="3" height="1" fill="#c0c0c0"/>
<rect x="1349" y="619" width="3" height="1" fill="#c0c0c0"/>
<rect x="1355" y="619" width="3" height="1" fill="#c0c0c0"/>
<rect x="1361" y="619" width="3" height="1" fill="#c0c0c0"/>
<rect x="1367" y="619" width="3" height="1" fill="#c0c0c0"/>
<rect x="1373" y="619" width="3" height="1" fill="#c0c0c0"/>
<rect x="1379" y="619" width="3" height="1" fill="#c0c0c0"/>
<rect x="1385" y="619" width="3" height="1" fill="#c0c0c0"/>
<rect x="1391" y="619" width="3" height="1" fill="#c0c0c0"/>
<rect x="1397" y="619" width="3" height="1" fill="#c0c0c0"/>
<rect x="1403" y="619" width="3" height="1" fill="#c0c0c0"/>
<rect x="1409" y="619" width="3" height="1" fill="#c0c0c0"/>
<rect x="1415" y="619" width="3" height="1" fill="#c0c0c0"/>
<rect x="1421" y="619" width="3" height="1" fill="#c0c0c0"/>
<rect x="1427" y="619" width="3" height="1" fill="#c0c0c0"/>
<rect x="1433" y="619" width="3" height="1" fill="#c0c0c0"/>
<rect x="1439" y="619" width="3" height="1" fill="#c0c0c0"/>
<rect x="1445" y="619" width="3" height="1" fill="#c0c0c0"/>
<rect x="1451" y="619" width="3" height="1" fill="#c0c0c0"/>
<rect x="1457" y="619" width="3" height="1" fill="#c0c0c0"/>
<rect x="1463" y="619" width="3" height="1" fill="#c0c0c0"/>
<rect x="1469" y="619" width="3" height="1" fill="#c0c0c0"/>
<rect x="1475" y="619" width="3" height="1" fill="#c0c0c0"/>
<rect x="1481" y="619" width="3" height="1" fill="#c0c0c0"/>
<rect x="1487" y="619" width="3" height="1" fill="#c0c0c0"/>
<rect x="1493" y="619" width="3" height="1" fill="#c0c0c0"/>
<rect x="1499" y="619" width="3" height="1" fill="#c0c0c0"/>
<rect x="1505" y="619" width="3" height="1" fill="#c0c0c0"/>
<rect x="1511" y="619" width="3" height="1" fill="#c0c0c0"/>
<rect x="1517" y="619" width="3" height="1" fill="#c0c0c0"/>
<rect x="1523" y="619" width="3" height="1" fill="#c0c0c0"/>
<rect x="1529" y="619" width="3" height="1" fill="#c0c0c0"/>
<rect x="1535" y="619" width="3" height="1" fill="#c0c0c0"/>
<rect x="1541" y="619" width="3" height="1" fill="#c0c0c0"/>
<rect x="1547" y="619" width="3" height="1" fill="#c0c0c0"/>
<rect x="1553" y="619" width="3" height="1" fill="#c0c0c0"/>
<rect x="1559" y="619" width="3" height="1" fill="#c0c0c0"/>
<rect x="1565" y="619" width="3" height="1" fill="#c0c0c0"/>
<rect x="1571" y="619" width="3" height="1" fill="#c0c0c0"/>
<rect x="1577" y="619" width="3" height="1" fill="#c0c0c0"/>
<rect x="1583" y="619" width="3" height="1" fill="#c0c0c0"/>
<rect x="1589" y="619" width="3" height="1" fill="#c0c0c0"/>
<rect x="1595" y="619" width="3" height="1" fill="#c0c0c0"/>
<rect x="1601" y="619" width="3" height="1" fill="#c0c0c0"/>
<rect x="1607" y="619" width="3" height="1" fill="#c0c0c0"/>
<rect x="1613" y="619" width="3" height="1" fill="#c0c0c0"/>
<rect x="1619" y="619" width="3" height="1" fill="#c0c0c0"/>
<rect x="1625" y="619" width="3" height="1" fill="#c0c0c0"/>
<rect x="1631" y="619" width="3" height="1" fill="#c0c0c0"/>
<rect x="1637" y="619" width="3" height="1" fill="#c0c0c0"/>
<rect x="1643" y="619" width="3" height="1" fill="#c0c0c0"/>
<rect x="1649" y="619" width="3" height="1" fill="#c0c0c0"/>
<rect x="1655" y="619" width="3" height="1" fill="#c0c0c0"/>
<rect x="1661" y="619" width="3" height="1" fill="#c0c0c0"/>
<rect x="1667" y="619" width="3" height="1" fill="#c0c0c0"/>
<rect x="1673" y="619" width="3" height="1" fill="#c0c0c0"/>
<rect x="1679" y="619" width="3" height="1" fill="#c0c0c0"/>
<path d="M181.5 576v2M183.5 579v2M185.5 582v2M187.5 585v2M344.5 590v2M581.5 593v2M583.5 590v2M585.5 587v2M587.5 584v2M628.5 577v2M629.5 579v3M630.5 582v4M631.5 586v3M632.5 589v3M633.5 592v3M634.5 595v4M635.5 599v3M636.5 602v2M677.5 599v2M680.5 603v2M683.5 607v2M768.5 600v2M949.5 603v2M950.5 601v2M952.5 598v2M954.5 595v2M955.5 593v2M1088.5 599v2M1141.5 592v2M1143.5 595v2M1145.5 598v2M1147.5 601v2M1293.5 601v2M1295.5 604v2M1297.5 607v2M1299.5 610v2M1301.5 610v2M1303.5 607v2M1305.5 604v2M1307.5 601v2M164 573.5h3M162 574.5h2M167 574.5h4M160 575.5h2M171 575.5h10M158 576.5h2M155 577.5h3M627 577.5h1M151 578.5h4M182 578.5h1M283 578.5h3M623 578.5h4M121 579.5h30M251 579.5h3M281 579.5h2M286 579.5h2M617 579.5h6M116 580.5h5M247 580.5h4M254 580.5h2M278 580.5h3M288 580.5h2M299 580.5h2M603 580.5h14M114 581.5h2M184 581.5h1M244 581.5h3M256 581.5h2M275 581.5h3M290 581.5h2M295 581.5h4M301 581.5h2M601 581.5h2M113 582.5h1M242 582.5h2M258 582.5h2M273 582.5h2M292 582.5h3M303 582.5h2M598 582.5h3M68 583.5h3M111 583.5h2M241 583.5h1M260 583.5h5M270 583.5h3M305 583.5h1M588 583.5h10M27 584.5h4M66 584.5h2M71 584.5h4M81 584.5h12M109 584.5h2M186 584.5h1M239 584.5h2M265 584.5h5M306 584.5h2M25 585.5h2M31 585.5h4M65 585.5h1M75 585.5h6M93 585.5h2M108 585.5h1M237 585.5h2M308 585.5h1M22 586.5h3M35 586.5h3M63 586.5h2M95 586.5h1M106 586.5h2M209 586.5h12M236 586.5h1M309 586.5h1M339 586.5h2M586 586.5h1M17 587.5h5M38 587.5h3M61 587.5h2M96 587.5h1M105 587.5h1M188 587.5h1M204 587.5h5M221 587.5h2M234 587.5h2M310 587.5h1M337 587.5h2M341 587.5h1M1036 587.5h1M1116 587.5h3M1131 587.5h3M9 588.5h8M41 588.5h2M59 588.5h2M97 588.5h2M103 588.5h2M189 588.5h2M203 588.5h1M223 588.5h2M233 588.5h1M311 588.5h1M334 588.5h3M342 588.5h1M555 588.5h4M1034 588.5h2M1037 588.5h2M1115 588.5h1M1119 588.5h4M1127 588.5h4M1134 588.5h2M4 589.5h5M43 589.5h4M57 589.5h2M99 589.5h1M101 589.5h2M191 589.5h1M201 589.5h2M225 589.5h1M231 589.5h2M312 589.5h1M329 589.5h5M343 589.5h1M553 589.5h2M559 589.5h4M584 589.5h1M1033 589.5h1M1039 589.5h2M1114 589.5h1M1123 589.5h4M1136 589.5h2M47 590.5h4M54 590.5h3M100 590.5h1M192 590.5h1M200 590.5h1M226 590.5h2M229 590.5h2M313 590.5h1M323 590.5h6M385 590.5h4M531 590.5h6M550 590.5h3M563 590.5h2M987 590.5h4M1031 590.5h2M1041 590.5h1M1113 590.5h1M1138 590.5h2M51 591.5h3M193 591.5h2M199 591.5h1M228 591.5h1M314 591.5h1M321 591.5h2M380 591.5h5M389 591.5h2M529 591.5h2M537 591.5h13M565 591.5h2M961 591.5h8M983 591.5h4M991 591.5h4M1001 591.5h4M1029 591.5h2M1042 591.5h2M1112 591.5h1M1140 591.5h1M195 592.5h1M197 592.5h2M315 592.5h1M318 592.5h3M345 592.5h1M378 592.5h2M391 592.5h2M526 592.5h3M567 592.5h1M582 592.5h1M956 592.5h5M969 592.5h14M995 592.5h6M1005 592.5h2M1027 592.5h2M1044 592.5h5M1111 592.5h1M196 593.5h1M316 593.5h2M346 593.5h1M376 593.5h2M393 593.5h1M420 593.5h1M515 593.5h11M568 593.5h1M1007 593.5h2M1023 593.5h4M1049 593.5h8M1110 593.5h1M347 594.5h1M353 594.5h5M374 594.5h2M394 594.5h2M418 594.5h2M421 594.5h1M511 594.5h4M569 594.5h2M1009 594.5h1M1019 594.5h4M1057 594.5h4M1109 594.5h1M1142 594.5h1M348 595.5h5M358 595.5h3M371 595.5h3M396 595.5h5M417 595.5h1M422 595.5h1M508 595.5h3M571 595.5h1M577 595.5h4M1010 595.5h2M1015 595.5h4M1061 595.5h1M1084 595.5h1M1107 595.5h2M361 596.5h2M367 596.5h4M401 596.5h6M415 596.5h2M423 596.5h2M506 596.5h2M572 596.5h5M772 596.5h1M1012 596.5h3M1062 596.5h1M1083 596.5h1M1085 596.5h1M1103 596.5h4M363 597.5h4M407 597.5h4M413 597.5h2M425 597.5h1M505 597.5h1M659 597.5h4M771 597.5h1M773 597.5h2M953 597.5h1M1063 597.5h2M1082 597.5h1M1086 597.5h1M1100 597.5h3M1144 597.5h1M411 598.5h2M426 598.5h1M503 598.5h2M657 598.5h2M663 598.5h4M673 598.5h4M770 598.5h1M775 598.5h2M1065 598.5h1M1081 598.5h1M1087 598.5h1M1099 598.5h1M1164 598.5h11M1187 598.5h3M1284 598.5h3M1323 598.5h4M427 599.5h1M501 599.5h2M654 599.5h3M667 599.5h6M724 599.5h3M769 599.5h1M777 599.5h1M1066 599.5h1M1080 599.5h1M1098 599.5h1M1163 599.5h1M1175 599.5h4M1183 599.5h4M1190 599.5h3M1203 599.5h2M1282 599.5h2M1287 599.5h4M1319 599.5h4M1327 599.5h4M428 600.5h3M497 600.5h4M652 600.5h2M722 600.5h2M727 600.5h4M737 600.5h5M778 600.5h2M951 600.5h1M1067 600.5h1M1079 600.5h1M1097 600.5h1M1146 600.5h1M1161 600.5h2M1179 600.5h4M1193 600.5h2M1199 600.5h4M1205 600.5h2M1280 600.5h2M1291 600.5h2M1308 600.5h11M1331 600.5h2M431 601.5h4M492 601.5h5M651 601.5h1M678 601.5h1M721 601.5h1M731 601.5h6M742 601.5h3M755 601.5h3M780 601.5h17M1068 601.5h3M1078 601.5h1M1089 601.5h1M1095 601.5h2M1160 601.5h1M1195 601.5h4M1207 601.5h2M1278 601.5h2M435 602.5h11M491 602.5h1M649 602.5h2M679 602.5h1M719 602.5h2M745 602.5h2M751 602.5h4M758 602.5h2M767 602.5h1M797 602.5h2M892 602.5h10M1071 602.5h4M1077 602.5h1M1090 602.5h1M1094 602.5h1M1159 602.5h1M1209 602.5h1M1225 602.5h24M1276 602.5h2M446 603.5h2M490 603.5h1M637 603.5h1M648 603.5h1M717 603.5h2M747 603.5h4M760 603.5h2M766 603.5h1M799 603.5h1M891 603.5h1M902 603.5h2M1075 603.5h2M1091 603.5h1M1093 603.5h1M1148 603.5h5M1157 603.5h2M1210 603.5h2M1217 603.5h8M1249 603.5h5M1274 603.5h2M1294 603.5h1M1306 603.5h1M448 604.5h2M489 604.5h1M638 604.5h3M647 604.5h1M713 604.5h4M762 604.5h2M765 604.5h1M800 604.5h1M890 604.5h1M904 604.5h2M915 604.5h6M1092 604.5h1M1153 604.5h4M1212 604.5h5M1254 604.5h2M1272 604.5h2M450 605.5h2M487 605.5h2M641 605.5h2M645 605.5h2M681 605.5h1M707 605.5h6M764 605.5h1M801 605.5h2M889 605.5h1M906 605.5h2M911 605.5h4M921 605.5h8M945 605.5h4M1256 605.5h2M1270 605.5h2M452 606.5h3M486 606.5h1M643 606.5h2M682 606.5h1M705 606.5h2M803 606.5h1M888 606.5h1M908 606.5h3M929 606.5h16M1258 606.5h2M1265 606.5h5M1296 606.5h1M1304 606.5h1M455 607.5h4M476 607.5h5M485 607.5h1M691 607.5h6M702 607.5h3M804 607.5h2M843 607.5h3M887 607.5h1M1260 607.5h5M459 608.5h3M474 608.5h2M481 608.5h4M687 608.5h4M697 608.5h5M806 608.5h2M828 608.5h5M839 608.5h4M846 608.5h3M875 608.5h4M886 608.5h1M462 609.5h2M473 609.5h1M684 609.5h3M808 609.5h2M827 609.5h1M833 609.5h6M849 609.5h2M857 609.5h8M871 609.5h4M879 609.5h4M885 609.5h1M1298 609.5h1M1302 609.5h1M464 610.5h2M471 610.5h2M810 610.5h2M826 610.5h1M851 610.5h6M865 610.5h6M883 610.5h2M466 611.5h2M469 611.5h2M812 611.5h2M825 611.5h1M468 612.5h1M814 612.5h2M823 612.5h2M1300 612.5h1M816 613.5h2M822 613.5h1M818 614.5h2M821 614.5h1M820 615.5h1" fill="none" stroke="#1e90ff" stroke-width="1"/>
</g>
<text x="7.8" y="564.8" font-size="9.7" fill="#000" stroke="#000" stroke-width="0.18" textLength="32.6" lengthAdjust="spacingAndGlyphs">RSI(14)</text>
<text x="43" y="564.8" font-size="9.7" fill="#000" stroke="#000" stroke-width="0.18" textLength="33" lengthAdjust="spacingAndGlyphs">50.8203</text>
<text x="1688" y="562.8" font-size="9.7" fill="#000" stroke="#000" stroke-width="0.18" textLength="15" lengthAdjust="spacingAndGlyphs">100</text>
<text x="1688" y="585.8" font-size="9.7" fill="#000" stroke="#000" stroke-width="0.18" textLength="9.5" lengthAdjust="spacingAndGlyphs">70</text>
<text x="1688" y="622.8" font-size="9.7" fill="#000" stroke="#000" stroke-width="0.18" textLength="9.5" lengthAdjust="spacingAndGlyphs">30</text>
<text x="1688" y="644.8" font-size="9.7" fill="#000" stroke="#000" stroke-width="0.18" textLength="4.8" lengthAdjust="spacingAndGlyphs">0</text>
<g shape-rendering="crispEdges" clip-path="url(#cd)">
<rect x="4" y="684" width="1" height="30" fill="#c0c0c0"/>
<rect x="12" y="683" width="1" height="31" fill="#c0c0c0"/>
<rect x="20" y="681" width="1" height="33" fill="#c0c0c0"/>
<rect x="28" y="679" width="1" height="35" fill="#c0c0c0"/>
<rect x="36" y="678" width="1" height="36" fill="#c0c0c0"/>
<rect x="44" y="678" width="1" height="36" fill="#c0c0c0"/>
<rect x="52" y="680" width="1" height="34" fill="#c0c0c0"/>
<rect x="60" y="680" width="1" height="34" fill="#c0c0c0"/>
<rect x="68" y="677" width="1" height="37" fill="#c0c0c0"/>
<rect x="76" y="676" width="1" height="38" fill="#c0c0c0"/>
<rect x="84" y="675" width="1" height="39" fill="#c0c0c0"/>
<rect x="92" y="674" width="1" height="40" fill="#c0c0c0"/>
<rect x="100" y="676" width="1" height="38" fill="#c0c0c0"/>
<rect x="108" y="675" width="1" height="39" fill="#c0c0c0"/>
<rect x="116" y="672" width="1" height="42" fill="#c0c0c0"/>
<rect x="124" y="669" width="1" height="45" fill="#c0c0c0"/>
<rect x="132" y="667" width="1" height="47" fill="#c0c0c0"/>
<rect x="140" y="666" width="1" height="48" fill="#c0c0c0"/>
<rect x="148" y="665" width="1" height="49" fill="#c0c0c0"/>
<rect x="156" y="664" width="1" height="50" fill="#c0c0c0"/>
<rect x="164" y="661" width="1" height="53" fill="#c0c0c0"/>
<rect x="172" y="659" width="1" height="55" fill="#c0c0c0"/>
<rect x="180" y="658" width="1" height="56" fill="#c0c0c0"/>
<rect x="188" y="661" width="1" height="53" fill="#c0c0c0"/>
<rect x="196" y="666" width="1" height="48" fill="#c0c0c0"/>
<rect x="204" y="668" width="1" height="46" fill="#c0c0c0"/>
<rect x="212" y="668" width="1" height="46" fill="#c0c0c0"/>
<rect x="220" y="670" width="1" height="44" fill="#c0c0c0"/>
<rect x="228" y="672" width="1" height="42" fill="#c0c0c0"/>
<rect x="236" y="673" width="1" height="41" fill="#c0c0c0"/>
<rect x="244" y="669" width="1" height="45" fill="#c0c0c0"/>
<rect x="252" y="665" width="1" height="49" fill="#c0c0c0"/>
<rect x="260" y="664" width="1" height="50" fill="#c0c0c0"/>
<rect x="268" y="664" width="1" height="50" fill="#c0c0c0"/>
<rect x="276" y="662" width="1" height="52" fill="#c0c0c0"/>
<rect x="284" y="659" width="1" height="55" fill="#c0c0c0"/>
<rect x="292" y="658" width="1" height="56" fill="#c0c0c0"/>
<rect x="300" y="657" width="1" height="57" fill="#c0c0c0"/>
<rect x="308" y="658" width="1" height="56" fill="#c0c0c0"/>
<rect x="316" y="663" width="1" height="51" fill="#c0c0c0"/>
<rect x="324" y="665" width="1" height="49" fill="#c0c0c0"/>
<rect x="332" y="667" width="1" height="47" fill="#c0c0c0"/>
<rect x="340" y="667" width="1" height="47" fill="#c0c0c0"/>
<rect x="348" y="671" width="1" height="43" fill="#c0c0c0"/>
<rect x="356" y="675" width="1" height="39" fill="#c0c0c0"/>
<rect x="364" y="679" width="1" height="35" fill="#c0c0c0"/>
<rect x="372" y="682" width="1" height="32" fill="#c0c0c0"/>
<rect x="380" y="683" width="1" height="31" fill="#c0c0c0"/>
<rect x="388" y="682" width="1" height="32" fill="#c0c0c0"/>
<rect x="396" y="685" width="1" height="29" fill="#c0c0c0"/>
<rect x="404" y="687" width="1" height="27" fill="#c0c0c0"/>
<rect x="412" y="690" width="1" height="24" fill="#c0c0c0"/>
<rect x="420" y="690" width="1" height="24" fill="#c0c0c0"/>
<rect x="428" y="694" width="1" height="20" fill="#c0c0c0"/>
<rect x="436" y="698" width="1" height="16" fill="#c0c0c0"/>
<rect x="444" y="702" width="1" height="12" fill="#c0c0c0"/>
<rect x="452" y="706" width="1" height="8" fill="#c0c0c0"/>
<rect x="460" y="711" width="1" height="3" fill="#c0c0c0"/>
<rect x="468" y="713" width="1" height="3" fill="#c0c0c0"/>
<rect x="476" y="713" width="1" height="6" fill="#c0c0c0"/>
<rect x="484" y="713" width="1" height="9" fill="#c0c0c0"/>
<rect x="492" y="713" width="1" height="8" fill="#c0c0c0"/>
<rect x="500" y="713" width="1" height="6" fill="#c0c0c0"/>
<rect x="508" y="713" width="1" height="3" fill="#c0c0c0"/>
<rect x="516" y="713" width="1" height="1" fill="#c0c0c0"/>
<rect x="524" y="710" width="1" height="4" fill="#c0c0c0"/>
<rect x="532" y="705" width="1" height="9" fill="#c0c0c0"/>
<rect x="540" y="703" width="1" height="11" fill="#c0c0c0"/>
<rect x="548" y="701" width="1" height="13" fill="#c0c0c0"/>
<rect x="556" y="698" width="1" height="16" fill="#c0c0c0"/>
<rect x="564" y="696" width="1" height="18" fill="#c0c0c0"/>
<rect x="572" y="697" width="1" height="17" fill="#c0c0c0"/>
<rect x="580" y="698" width="1" height="16" fill="#c0c0c0"/>
<rect x="588" y="692" width="1" height="22" fill="#c0c0c0"/>
<rect x="596" y="687" width="1" height="27" fill="#c0c0c0"/>
<rect x="604" y="681" width="1" height="33" fill="#c0c0c0"/>
<rect x="612" y="677" width="1" height="37" fill="#c0c0c0"/>
<rect x="620" y="674" width="1" height="40" fill="#c0c0c0"/>
<rect x="628" y="669" width="1" height="45" fill="#c0c0c0"/>
<rect x="636" y="678" width="1" height="36" fill="#c0c0c0"/>
<rect x="644" y="688" width="1" height="26" fill="#c0c0c0"/>
<rect x="652" y="691" width="1" height="23" fill="#c0c0c0"/>
<rect x="660" y="693" width="1" height="21" fill="#c0c0c0"/>
<rect x="668" y="695" width="1" height="19" fill="#c0c0c0"/>
<rect x="676" y="697" width="1" height="17" fill="#c0c0c0"/>
<rect x="684" y="706" width="1" height="8" fill="#c0c0c0"/>
<rect x="692" y="712" width="1" height="2" fill="#c0c0c0"/>
<rect x="700" y="713" width="1" height="4" fill="#c0c0c0"/>
<rect x="708" y="713" width="1" height="7" fill="#c0c0c0"/>
<rect x="716" y="713" width="1" height="8" fill="#c0c0c0"/>
<rect x="724" y="713" width="1" height="6" fill="#c0c0c0"/>
<rect x="732" y="713" width="1" height="5" fill="#c0c0c0"/>
<rect x="740" y="713" width="1" height="4" fill="#c0c0c0"/>
<rect x="748" y="713" width="1" height="5" fill="#c0c0c0"/>
<rect x="756" y="713" width="1" height="5" fill="#c0c0c0"/>
<rect x="764" y="713" width="1" height="6" fill="#c0c0c0"/>
<rect x="772" y="713" width="1" height="2" fill="#c0c0c0"/>
<rect x="780" y="713" width="1" height="2" fill="#c0c0c0"/>
<rect x="788" y="713" width="1" height="2" fill="#c0c0c0"/>
<rect x="796" y="713" width="1" height="2" fill="#c0c0c0"/>
<rect x="804" y="713" width="1" height="4" fill="#c0c0c0"/>
<rect x="812" y="713" width="1" height="12" fill="#c0c0c0"/>
<rect x="820" y="713" width="1" height="19" fill="#c0c0c0"/>
<rect x="828" y="713" width="1" height="22" fill="#c0c0c0"/>
<rect x="836" y="713" width="1" height="24" fill="#c0c0c0"/>
<rect x="844" y="713" width="1" height="24" fill="#c0c0c0"/>
<rect x="852" y="713" width="1" height="26" fill="#c0c0c0"/>
<rect x="860" y="713" width="1" height="26" fill="#c0c0c0"/>
<rect x="868" y="713" width="1" height="27" fill="#c0c0c0"/>
<rect x="876" y="713" width="1" height="27" fill="#c0c0c0"/>
<rect x="884" y="713" width="1" height="27" fill="#c0c0c0"/>
<rect x="892" y="713" width="1" height="24" fill="#c0c0c0"/>
<rect x="900" y="713" width="1" height="21" fill="#c0c0c0"/>
<rect x="908" y="713" width="1" height="20" fill="#c0c0c0"/>
<rect x="916" y="713" width="1" height="19" fill="#c0c0c0"/>
<rect x="924" y="713" width="1" height="18" fill="#c0c0c0"/>
<rect x="932" y="713" width="1" height="17" fill="#c0c0c0"/>
<rect x="940" y="713" width="1" height="17" fill="#c0c0c0"/>
<rect x="948" y="713" width="1" height="16" fill="#c0c0c0"/>
<rect x="956" y="713" width="1" height="9" fill="#c0c0c0"/>
<rect x="964" y="713" width="1" height="3" fill="#c0c0c0"/>
<rect x="972" y="713" width="1" height="1" fill="#c0c0c0"/>
<rect x="980" y="710" width="1" height="4" fill="#c0c0c0"/>
<rect x="988" y="706" width="1" height="8" fill="#c0c0c0"/>
<rect x="996" y="704" width="1" height="10" fill="#c0c0c0"/>
<rect x="1004" y="702" width="1" height="12" fill="#c0c0c0"/>
<rect x="1012" y="702" width="1" height="12" fill="#c0c0c0"/>
<rect x="1020" y="701" width="1" height="13" fill="#c0c0c0"/>
<rect x="1028" y="700" width="1" height="14" fill="#c0c0c0"/>
<rect x="1036" y="697" width="1" height="17" fill="#c0c0c0"/>
<rect x="1044" y="696" width="1" height="18" fill="#c0c0c0"/>
<rect x="1052" y="696" width="1" height="18" fill="#c0c0c0"/>
<rect x="1060" y="696" width="1" height="18" fill="#c0c0c0"/>
<rect x="1068" y="699" width="1" height="15" fill="#c0c0c0"/>
<rect x="1076" y="703" width="1" height="11" fill="#c0c0c0"/>
<rect x="1084" y="702" width="1" height="12" fill="#c0c0c0"/>
<rect x="1092" y="706" width="1" height="8" fill="#c0c0c0"/>
<rect x="1100" y="706" width="1" height="8" fill="#c0c0c0"/>
<rect x="1108" y="704" width="1" height="10" fill="#c0c0c0"/>
<rect x="1116" y="698" width="1" height="16" fill="#c0c0c0"/>
<rect x="1124" y="694" width="1" height="20" fill="#c0c0c0"/>
<rect x="1132" y="690" width="1" height="24" fill="#c0c0c0"/>
<rect x="1140" y="689" width="1" height="25" fill="#c0c0c0"/>
<rect x="1148" y="694" width="1" height="20" fill="#c0c0c0"/>
<rect x="1156" y="699" width="1" height="15" fill="#c0c0c0"/>
<rect x="1164" y="700" width="1" height="14" fill="#c0c0c0"/>
<rect x="1172" y="701" width="1" height="13" fill="#c0c0c0"/>
<rect x="1180" y="703" width="1" height="11" fill="#c0c0c0"/>
<rect x="1188" y="703" width="1" height="11" fill="#c0c0c0"/>
<rect x="1196" y="705" width="1" height="9" fill="#c0c0c0"/>
<rect x="1204" y="706" width="1" height="8" fill="#c0c0c0"/>
<rect x="1212" y="709" width="1" height="5" fill="#c0c0c0"/>
<rect x="1220" y="711" width="1" height="3" fill="#c0c0c0"/>
<rect x="1228" y="713" width="1" height="1" fill="#c0c0c0"/>
<rect x="1252" y="713" width="1" height="1" fill="#c0c0c0"/>
<rect x="1260" y="713" width="1" height="4" fill="#c0c0c0"/>
<rect x="1268" y="713" width="1" height="6" fill="#c0c0c0"/>
<rect x="1276" y="713" width="1" height="5" fill="#c0c0c0"/>
<rect x="1284" y="713" width="1" height="3" fill="#c0c0c0"/>
<rect x="1292" y="713" width="1" height="3" fill="#c0c0c0"/>
<rect x="1300" y="713" width="1" height="8" fill="#c0c0c0"/>
<rect x="1308" y="713" width="1" height="6" fill="#c0c0c0"/>
<rect x="1316" y="713" width="1" height="5" fill="#c0c0c0"/>
<rect x="1324" y="713" width="1" height="3" fill="#c0c0c0"/>
<rect x="1332" y="713" width="1" height="2" fill="#c0c0c0"/>
<path d="M316 660.5h3M322 660.5h3M328 660.5h3M334 660.5h3M305 661.5h2M310 661.5h3M340 661.5h3M185 662.5h2M190 662.5h3M196 662.5h3M202 662.5h3M208 662.5h3M214 662.5h3M299 662.5h2M304 662.5h1M346 662.5h3M179 663.5h2M184 663.5h1M220 663.5h3M298 663.5h1M352 663.5h3M178 664.5h1M226 664.5h3M232 664.5h1M292 664.5h3M358 664.5h1M172 665.5h3M233 665.5h2M238 665.5h3M281 665.5h2M286 665.5h3M359 665.5h2M166 666.5h3M244 666.5h3M274 666.5h3M280 666.5h1M364 666.5h2M161 667.5h2M250 667.5h3M256 667.5h3M262 667.5h3M268 667.5h3M366 667.5h1M160 668.5h1M370 668.5h1M154 669.5h3M371 669.5h2M376 669.5h1M148 670.5h3M377 670.5h2M382 670.5h1M142 671.5h3M383 671.5h2M136 672.5h3M388 672.5h3M130 673.5h3M394 673.5h1M124 674.5h3M395 674.5h2M106 675.5h3M112 675.5h3M118 675.5h3M400 675.5h1M100 676.5h3M401 676.5h2M82 677.5h3M88 677.5h3M94 677.5h3M406 677.5h1M76 678.5h3M407 678.5h2M65 679.5h2M70 679.5h3M412 679.5h2M34 680.5h3M40 680.5h3M46 680.5h3M52 680.5h3M58 680.5h3M64 680.5h1M414 680.5h1M28 681.5h3M652 681.5h3M658 681.5h3M664 681.5h1M17 682.5h2M22 682.5h3M418 682.5h2M641 682.5h2M646 682.5h3M665 682.5h2M670 682.5h1M4 683.5h3M10 683.5h3M16 683.5h1M420 683.5h1M424 683.5h1M635 683.5h2M640 683.5h1M671 683.5h2M425 684.5h2M634 684.5h1M676 684.5h2M430 685.5h3M628 685.5h3M678 685.5h1M682 686.5h1M436 687.5h3M622 687.5h3M683 687.5h2M442 688.5h1M443 689.5h2M617 689.5h2M688 689.5h2M448 690.5h1M616 690.5h1M690 690.5h1M449 691.5h2M611 691.5h2M610 692.5h1M694 692.5h1M454 693.5h3M606 693.5h1M695 693.5h2M604 694.5h2M460 695.5h2M599 695.5h2M462 696.5h1M598 696.5h1M700 696.5h1M1162 696.5h3M1168 696.5h3M1174 696.5h3M1180 696.5h3M1186 696.5h3M1192 696.5h1M593 697.5h2M701 697.5h2M1145 697.5h2M1150 697.5h3M1156 697.5h3M1193 697.5h2M1198 697.5h1M466 698.5h2M592 698.5h1M1060 698.5h3M1066 698.5h3M1072 698.5h3M1078 698.5h3M1084 698.5h3M1090 698.5h3M1096 698.5h1M1138 698.5h3M1144 698.5h1M1199 698.5h2M468 699.5h1M587 699.5h2M1054 699.5h3M1097 699.5h2M1102 699.5h3M1132 699.5h3M1204 699.5h3M472 700.5h1M586 700.5h1M706 700.5h2M1048 700.5h3M1108 700.5h3M1114 700.5h3M1120 700.5h3M1126 700.5h3M1210 700.5h1M473 701.5h2M580 701.5h3M708 701.5h1M1043 701.5h2M1211 701.5h2M1216 701.5h1M575 702.5h2M1042 702.5h1M1217 702.5h2M478 703.5h2M574 703.5h1M712 703.5h2M1036 703.5h3M1222 703.5h3M480 704.5h1M569 704.5h2M714 704.5h1M568 705.5h1M1030 705.5h3M1228 705.5h3M484 706.5h2M563 706.5h2M718 706.5h3M1234 706.5h3M1240 706.5h1M486 707.5h1M562 707.5h1M1024 707.5h3M1241 707.5h2M1246 707.5h1M490 708.5h1M558 708.5h1M724 708.5h2M1019 708.5h2M1247 708.5h2M491 709.5h2M556 709.5h2M726 709.5h1M1018 709.5h1M1252 709.5h3M496 710.5h1M730 710.5h1M1014 710.5h1M1258 710.5h1M497 711.5h2M550 711.5h3M731 711.5h2M1012 711.5h2M1259 711.5h2M1264 711.5h1M502 712.5h1M736 712.5h1M1265 712.5h2M1270 712.5h1M503 713.5h2M544 713.5h3M737 713.5h2M1008 713.5h1M1271 713.5h2M508 714.5h3M538 714.5h3M742 714.5h1M1006 714.5h2M1276 714.5h3M514 715.5h1M532 715.5h3M743 715.5h2M1282 715.5h3M1288 715.5h3M1294 715.5h3M515 716.5h2M520 716.5h3M526 716.5h3M748 716.5h3M1000 716.5h3M1300 716.5h3M754 717.5h1M785 717.5h2M790 717.5h3M796 717.5h3M802 717.5h3M808 717.5h1M995 717.5h2M1306 717.5h3M1312 717.5h1M755 718.5h2M760 718.5h3M766 718.5h3M772 718.5h3M778 718.5h3M784 718.5h1M809 718.5h2M814 718.5h3M994 718.5h1M1313 718.5h2M1318 718.5h3M1324 718.5h3M1330 718.5h3M820 719.5h3M990 719.5h1M826 720.5h1M988 720.5h2M827 721.5h2M832 721.5h1M833 722.5h2M982 722.5h3M838 723.5h3M977 724.5h2M844 725.5h2M976 725.5h1M846 726.5h1M971 726.5h2M850 727.5h1M970 727.5h1M851 728.5h2M966 728.5h1M856 729.5h1M964 729.5h2M857 730.5h2M958 730.5h3M862 731.5h1M953 731.5h2M863 732.5h2M952 732.5h1M868 733.5h2M946 733.5h3M870 734.5h1M940 734.5h3M874 735.5h1M929 735.5h2M934 735.5h3M875 736.5h2M922 736.5h3M928 736.5h1M880 737.5h3M916 737.5h3M886 738.5h3M892 738.5h3M898 738.5h3M904 738.5h3M910 738.5h3" fill="none" stroke="#ff0000" stroke-width="1"/>
</g>
<text x="7.8" y="662.8" font-size="9.7" fill="#000" stroke="#000" stroke-width="0.18" textLength="66.2" lengthAdjust="spacingAndGlyphs">MACD(12,26,9)</text>
<text x="76.6" y="662.8" font-size="9.7" fill="#000" stroke="#000" stroke-width="0.18" textLength="41.2" lengthAdjust="spacingAndGlyphs">-0.000302</text>
<text x="121" y="662.8" font-size="9.7" fill="#000" stroke="#000" stroke-width="0.18" textLength="41.2" lengthAdjust="spacingAndGlyphs">-0.000627</text>
<text x="1688" y="660.8" font-size="9.7" fill="#000" stroke="#000" stroke-width="0.18" textLength="37.5" lengthAdjust="spacingAndGlyphs">0.008782</text>
<text x="1688" y="716.8" font-size="9.7" fill="#000" stroke="#000" stroke-width="0.18" textLength="18" lengthAdjust="spacingAndGlyphs">0.00</text>
<text x="1688" y="741.8" font-size="9.7" fill="#000" stroke="#000" stroke-width="0.18" textLength="41" lengthAdjust="spacingAndGlyphs">-0.004451</text>
<g shape-rendering="crispEdges">
<rect x="1685" y="554" width="1" height="1" fill="#000"/>
<rect x="1685" y="647" width="1" height="1" fill="#000"/>
<rect x="1685" y="652" width="1" height="1" fill="#000"/>
<rect x="1685" y="713" width="1" height="1" fill="#000"/>
<rect x="1685" y="744" width="1" height="1" fill="#000"/>
<rect x="4" y="746" width="1" height="3" fill="#000"/>
<rect x="68" y="746" width="1" height="3" fill="#000"/>
<rect x="132" y="746" width="1" height="3" fill="#000"/>
<rect x="196" y="746" width="1" height="3" fill="#000"/>
<rect x="260" y="746" width="1" height="3" fill="#000"/>
<rect x="324" y="746" width="1" height="3" fill="#000"/>
<rect x="388" y="746" width="1" height="3" fill="#000"/>
<rect x="452" y="746" width="1" height="3" fill="#000"/>
<rect x="516" y="746" width="1" height="3" fill="#000"/>
<rect x="580" y="746" width="1" height="3" fill="#000"/>
<rect x="644" y="746" width="1" height="3" fill="#000"/>
<rect x="708" y="746" width="1" height="3" fill="#000"/>
<rect x="772" y="746" width="1" height="3" fill="#000"/>
<rect x="836" y="746" width="1" height="3" fill="#000"/>
<rect x="900" y="746" width="1" height="3" fill="#000"/>
<rect x="964" y="746" width="1" height="3" fill="#000"/>
<rect x="1028" y="746" width="1" height="3" fill="#000"/>
<rect x="1092" y="746" width="1" height="3" fill="#000"/>
<rect x="1156" y="746" width="1" height="3" fill="#000"/>
<rect x="1220" y="746" width="1" height="3" fill="#000"/>
<rect x="1284" y="746" width="1" height="3" fill="#000"/>
</g>
<text x="3" y="757.8" font-size="9.7" fill="#000" stroke="#000" stroke-width="0.18" textLength="54.3" lengthAdjust="spacingAndGlyphs">24 Nov 2020</text>
<text x="67" y="757.8" font-size="9.7" fill="#000" stroke="#000" stroke-width="0.18" textLength="47.55" lengthAdjust="spacingAndGlyphs">3 Dec 2020</text>
<text x="131" y="757.8" font-size="9.7" fill="#000" stroke="#000" stroke-width="0.18" textLength="51.55" lengthAdjust="spacingAndGlyphs">12 Dec 2020</text>
<text x="195" y="757.8" font-size="9.7" fill="#000" stroke="#000" stroke-width="0.18" textLength="51.3" lengthAdjust="spacingAndGlyphs">22 Dec 2020</text>
<text x="259" y="757.8" font-size="9.7" fill="#000" stroke="#000" stroke-width="0.18" textLength="44.55" lengthAdjust="spacingAndGlyphs">1 Jan 2021</text>
<text x="323" y="757.8" font-size="9.7" fill="#000" stroke="#000" stroke-width="0.18" textLength="49.05" lengthAdjust="spacingAndGlyphs">12 Jan 2021</text>
<text x="387" y="757.8" font-size="9.7" fill="#000" stroke="#000" stroke-width="0.18" textLength="49.05" lengthAdjust="spacingAndGlyphs">21 Jan 2021</text>
<text x="451" y="757.8" font-size="9.7" fill="#000" stroke="#000" stroke-width="0.18" textLength="49.55" lengthAdjust="spacingAndGlyphs">30 Jan 2021</text>
<text x="515" y="757.8" font-size="9.7" fill="#000" stroke="#000" stroke-width="0.18" textLength="47.05" lengthAdjust="spacingAndGlyphs">9 Feb 2021</text>
<text x="579" y="757.8" font-size="9.7" fill="#000" stroke="#000" stroke-width="0.18" textLength="51.55" lengthAdjust="spacingAndGlyphs">18 Feb 2021</text>
<text x="643" y="757.8" font-size="9.7" fill="#000" stroke="#000" stroke-width="0.18" textLength="52.05" lengthAdjust="spacingAndGlyphs">27 Feb 2021</text>
<text x="707" y="757.8" font-size="9.7" fill="#000" stroke="#000" stroke-width="0.18" textLength="47.05" lengthAdjust="spacingAndGlyphs">9 Mar 2021</text>
<text x="771" y="757.8" font-size="9.7" fill="#000" stroke="#000" stroke-width="0.18" textLength="51.55" lengthAdjust="spacingAndGlyphs">18 Mar 2021</text>
<text x="835" y="757.8" font-size="9.7" fill="#000" stroke="#000" stroke-width="0.18" textLength="52.3" lengthAdjust="spacingAndGlyphs">27 Mar 2021</text>
<text x="899" y="757.8" font-size="9.7" fill="#000" stroke="#000" stroke-width="0.18" textLength="46.8" lengthAdjust="spacingAndGlyphs">6 Apr 2021</text>
<text x="963" y="757.8" font-size="9.7" fill="#000" stroke="#000" stroke-width="0.18" textLength="51.05" lengthAdjust="spacingAndGlyphs">15 Apr 2021</text>
<text x="1027" y="757.8" font-size="9.7" fill="#000" stroke="#000" stroke-width="0.18" textLength="50.8" lengthAdjust="spacingAndGlyphs">24 Apr 2021</text>
<text x="1091" y="757.8" font-size="9.7" fill="#000" stroke="#000" stroke-width="0.18" textLength="50.05" lengthAdjust="spacingAndGlyphs">4 May 2021</text>
<text x="1155" y="757.8" font-size="9.7" fill="#000" stroke="#000" stroke-width="0.18" textLength="54.55" lengthAdjust="spacingAndGlyphs">13 May 2021</text>
<text x="1219" y="757.8" font-size="9.7" fill="#000" stroke="#000" stroke-width="0.18" textLength="55.05" lengthAdjust="spacingAndGlyphs">22 May 2021</text>
<text x="1283" y="757.8" font-size="9.7" fill="#000" stroke="#000" stroke-width="0.18" textLength="45.3" lengthAdjust="spacingAndGlyphs">1 Jun 2021</text>
<g shape-rendering="crispEdges">
<rect x="1" y="766" width="1726" height="1" fill="#e3e3e3"/>
<rect x="0" y="768" width="1727" height="1" fill="#000"/>
<rect x="0" y="769" width="1727" height="19" fill="#f0f0f0"/>
<rect x="1" y="769" width="1726" height="1" fill="#ffffff"/>
<rect x="0" y="769" width="1" height="18" fill="#696969"/>
<rect x="313" y="767" width="104" height="20" fill="#ffffff"/>
<rect x="313" y="768" width="1" height="19" fill="#000"/>
<rect x="416" y="768" width="1" height="19" fill="#000"/>
<rect x="313" y="786" width="104" height="1" fill="#000"/>
<rect x="314" y="787" width="104" height="1" fill="#a0a0a0"/>
<rect x="314" y="766" width="102" height="1" fill="#e3e3e3"/>
<rect x="105" y="771" width="1" height="15" fill="#505050"/>
<rect x="209" y="771" width="1" height="15" fill="#505050"/>
<rect x="521" y="771" width="1" height="15" fill="#505050"/>
<rect x="613" y="771" width="1" height="15" fill="#505050"/>
<rect x="697" y="771" width="1" height="15" fill="#505050"/>
</g>
<text x="15" y="783" font-size="12" fill="#6a6a6a" stroke="#6a6a6a" stroke-width="0.15" textLength="79.5" lengthAdjust="spacingAndGlyphs">USDCHF,Daily</text>
<text x="115" y="783" font-size="12" fill="#6a6a6a" stroke="#6a6a6a" stroke-width="0.15" textLength="83" lengthAdjust="spacingAndGlyphs">USDCNH,Daily</text>
<text x="221" y="783" font-size="12" fill="#6a6a6a" stroke="#6a6a6a" stroke-width="0.15" textLength="80" lengthAdjust="spacingAndGlyphs">EURUSD,Daily</text>
<text x="324" y="783" font-size="12" fill="#000" stroke="#000" stroke-width="0.15" textLength="82" lengthAdjust="spacingAndGlyphs">AUDUSD,Daily</text>
<text x="428" y="783" font-size="12" fill="#6a6a6a" stroke="#6a6a6a" stroke-width="0.15" textLength="81" lengthAdjust="spacingAndGlyphs">USDCAD,Daily</text>
<text x="532" y="783" font-size="12" fill="#6a6a6a" stroke="#6a6a6a" stroke-width="0.15" textLength="69" lengthAdjust="spacingAndGlyphs">XAUUSD,H4</text>
<text x="623" y="783" font-size="12" fill="#6a6a6a" stroke="#6a6a6a" stroke-width="0.15" textLength="63" lengthAdjust="spacingAndGlyphs">USOil,Daily</text>
<path d="M1703.6 773.8 L1703.6 780.6 L1699.8 777.2 Z" fill="#a0a0a0"/><path d="M1719 773.8 L1719 780.6 L1722.8 777.2 Z" fill="#a0a0a0"/>
</svg></body></html>
